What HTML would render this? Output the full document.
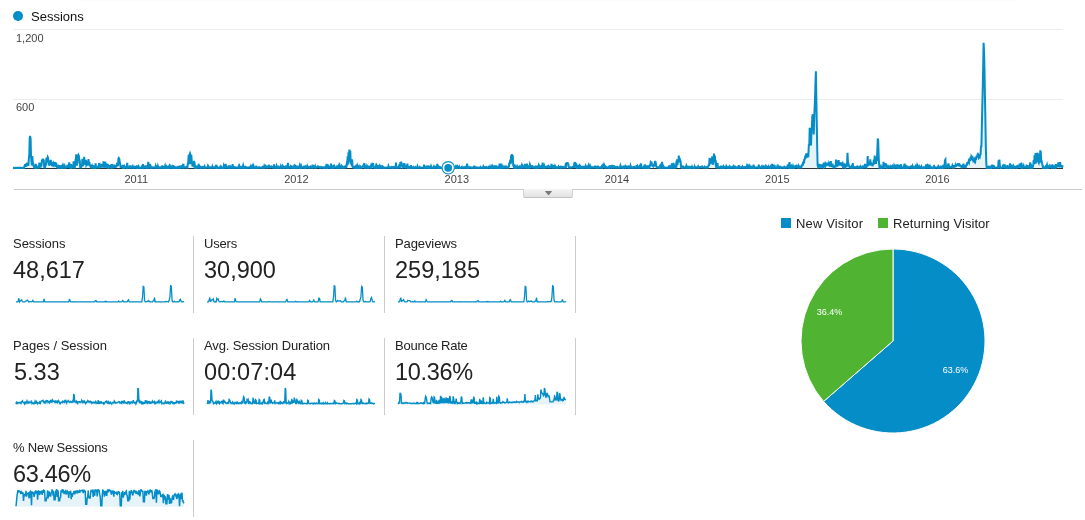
<!DOCTYPE html>
<html><head><meta charset="utf-8"><title>Audience Overview</title>
<style>
html,body{margin:0;padding:0;background:#fff;}
body{width:1085px;height:520px;position:relative;overflow:hidden;font-family:"Liberation Sans",sans-serif;color:#222;}
#chart{position:absolute;left:0;top:0;}
#chart text{font-family:"Liberation Sans",sans-serif;font-size:11px;fill:#444;}
#chart text.lg{font-size:13px;fill:#111;}
.tab{position:absolute;left:523px;top:189px;width:48px;height:8px;border:1px solid #d2d2d2;border-bottom-color:#c2c2c2;border-top:none;border-radius:0 0 2px 2px;background:linear-gradient(#f4f4f4,#e2e2e2);}
.m{position:absolute;width:180px;height:77px;border-right:1px solid #ccc;}
.ml{position:absolute;left:0;top:0px;font-size:13px;line-height:16px;color:#222;white-space:nowrap;}
.mv{position:absolute;left:0;top:19px;font-size:23.5px;line-height:30px;color:#222;white-space:nowrap;}
.sp{position:absolute;left:1px;top:49px;}
#pie{position:absolute;left:0;top:0;pointer-events:none;}
#pie text{font-family:"Liberation Sans",sans-serif;}
</style></head><body>
<svg id="chart" width="1085" height="200" viewBox="0 0 1085 200">
<defs><clipPath id="cp"><rect x="12" y="0" width="1052" height="169"/></clipPath></defs>
<rect x="76" y="0" width="943" height="1" fill="#fcfcfc"/>
<circle cx="18" cy="16" r="5" fill="#058dc7"/>
<text class="lg" x="31" y="21">Sessions</text>
<rect x="13" y="29" width="1050" height="1" fill="#ececec"/>
<rect x="13" y="99" width="1050" height="1" fill="#ececec"/>
<text x="16" y="42">1,200</text>
<text x="16" y="111">600</text>
<rect x="13" y="168" width="1050" height="1" fill="#333"/>
<path d="M13.0,168.0 L13.0,167.8 L13.4,167.9 L13.9,167.8 L14.3,167.9 L14.8,167.8 L15.2,167.9 L15.6,167.8 L16.1,167.9 L16.5,167.8 L17.0,167.9 L17.4,167.8 L17.8,167.9 L18.3,167.8 L18.7,167.9 L19.1,167.8 L19.6,167.9 L20.0,167.8 L20.5,167.9 L20.9,167.8 L21.3,167.9 L21.8,167.8 L22.2,167.9 L22.7,167.8 L23.1,167.9 L23.5,167.8 L24.0,167.9 L24.4,166.2 L24.9,165.1 L25.3,165.1 L25.7,166.7 L26.2,164.6 L26.6,164.9 L27.1,162.8 L27.5,165.8 L27.9,164.5 L28.4,165.8 L28.8,159.1 L29.3,155.0 L29.7,138.6 L30.1,136.0 L30.6,138.6 L31.0,155.3 L31.4,161.0 L31.9,165.5 L32.3,156.2 L32.8,162.7 L33.2,163.5 L33.6,165.9 L34.1,167.2 L34.5,166.8 L35.0,166.6 L35.4,167.4 L35.8,163.8 L36.3,167.3 L36.7,166.7 L37.2,167.8 L37.6,167.4 L38.0,166.9 L38.5,166.3 L38.9,166.9 L39.4,162.7 L39.8,165.1 L40.2,164.8 L40.7,167.5 L41.1,164.8 L41.5,164.9 L42.0,159.5 L42.4,162.1 L42.9,158.7 L43.3,161.9 L43.7,159.5 L44.2,167.0 L44.6,166.8 L45.1,167.3 L45.5,164.5 L45.9,164.6 L46.4,157.9 L46.8,162.3 L47.3,158.6 L47.7,157.0 L48.1,157.9 L48.6,163.8 L49.0,163.8 L49.5,165.7 L49.9,160.5 L50.3,164.1 L50.8,159.8 L51.2,164.8 L51.6,161.8 L52.1,166.1 L52.5,162.6 L53.0,164.4 L53.4,163.2 L53.8,164.3 L54.3,162.4 L54.7,164.0 L55.2,162.0 L55.6,166.0 L56.0,165.9 L56.5,165.0 L56.9,167.1 L57.4,167.4 L57.8,165.1 L58.2,167.4 L58.7,166.3 L59.1,167.0 L59.6,165.1 L60.0,166.9 L60.4,167.6 L60.9,167.5 L61.3,166.7 L61.8,167.8 L62.2,166.5 L62.6,167.2 L63.1,165.1 L63.5,166.0 L63.9,167.4 L64.4,167.6 L64.8,166.1 L65.3,167.7 L65.7,167.2 L66.1,167.3 L66.6,167.3 L67.0,166.8 L67.5,164.8 L67.9,167.8 L68.3,166.5 L68.8,166.8 L69.2,162.3 L69.7,166.3 L70.1,167.3 L70.5,166.5 L71.0,164.1 L71.4,167.7 L71.9,166.7 L72.3,167.0 L72.7,164.8 L73.2,167.7 L73.6,161.4 L74.0,166.7 L74.5,166.2 L74.9,167.0 L75.4,161.7 L75.8,162.5 L76.2,154.3 L76.7,165.4 L77.1,163.9 L77.6,162.6 L78.0,156.1 L78.4,155.0 L78.9,156.1 L79.3,159.7 L79.8,160.7 L80.2,167.3 L80.6,167.3 L81.1,167.5 L81.5,166.0 L82.0,165.6 L82.4,158.7 L82.8,166.4 L83.3,162.8 L83.7,163.7 L84.2,156.7 L84.6,164.7 L85.0,160.8 L85.5,164.9 L85.9,159.9 L86.3,164.8 L86.8,163.7 L87.2,165.6 L87.7,162.3 L88.1,165.5 L88.5,159.1 L89.0,164.9 L89.4,162.2 L89.9,166.5 L90.3,164.7 L90.7,166.7 L91.2,166.2 L91.6,167.0 L92.1,165.9 L92.5,167.4 L92.9,165.2 L93.4,167.6 L93.8,167.1 L94.3,167.4 L94.7,166.7 L95.1,167.6 L95.6,163.3 L96.0,166.5 L96.4,167.3 L96.9,167.4 L97.3,167.0 L97.8,167.3 L98.2,166.9 L98.6,167.2 L99.1,163.2 L99.5,167.4 L100.0,165.7 L100.4,167.1 L100.8,165.2 L101.3,167.7 L101.7,165.2 L102.2,165.6 L102.6,166.0 L103.0,167.5 L103.5,161.4 L103.9,166.9 L104.4,165.8 L104.8,167.7 L105.2,161.7 L105.7,165.5 L106.1,166.6 L106.5,167.1 L107.0,167.4 L107.4,164.6 L107.9,164.8 L108.3,167.1 L108.7,165.3 L109.2,167.6 L109.6,167.0 L110.1,166.0 L110.5,166.2 L110.9,167.7 L111.4,164.1 L111.8,167.4 L112.3,166.7 L112.7,167.1 L113.1,165.9 L113.6,166.7 L114.0,166.1 L114.5,167.6 L114.9,165.4 L115.3,167.7 L115.8,165.1 L116.2,167.3 L116.7,164.9 L117.1,165.6 L117.5,165.2 L118.0,165.2 L118.4,158.8 L118.8,158.0 L119.3,158.8 L119.7,161.5 L120.2,164.2 L120.6,167.1 L121.0,167.1 L121.5,167.0 L121.9,166.6 L122.4,167.5 L122.8,164.8 L123.2,167.8 L123.7,166.6 L124.1,166.0 L124.6,167.6 L125.0,167.1 L125.4,166.7 L125.9,166.7 L126.3,166.6 L126.8,167.6 L127.2,162.9 L127.6,167.8 L128.1,167.6 L128.5,167.2 L128.9,167.2 L129.4,167.6 L129.8,165.5 L130.3,167.7 L130.7,165.4 L131.1,167.4 L131.6,167.3 L132.0,167.8 L132.5,167.4 L132.9,166.3 L133.3,167.2 L133.8,167.8 L134.2,167.4 L134.7,166.9 L135.1,167.5 L135.5,167.3 L136.0,167.6 L136.4,166.6 L136.9,167.0 L137.3,167.9 L137.7,165.4 L138.2,167.7 L138.6,166.6 L139.1,167.6 L139.5,167.7 L139.9,167.8 L140.4,167.6 L140.8,167.8 L141.2,167.7 L141.7,167.9 L142.1,165.3 L142.6,167.9 L143.0,164.2 L143.4,167.8 L143.9,167.6 L144.3,167.4 L144.8,165.6 L145.2,167.7 L145.6,167.8 L146.1,165.4 L146.5,167.7 L147.0,167.7 L147.4,167.2 L147.8,167.1 L148.3,161.8 L148.7,167.6 L149.2,167.4 L149.6,167.3 L150.0,163.8 L150.5,167.2 L150.9,166.8 L151.3,167.9 L151.8,167.5 L152.2,167.7 L152.7,167.3 L153.1,167.3 L153.5,167.6 L154.0,167.5 L154.4,167.4 L154.9,167.4 L155.3,167.6 L155.7,166.0 L156.2,167.7 L156.6,167.8 L157.1,165.8 L157.5,167.8 L157.9,166.1 L158.4,167.7 L158.8,167.7 L159.3,167.4 L159.7,167.7 L160.1,167.3 L160.6,167.8 L161.0,167.5 L161.4,167.6 L161.9,167.8 L162.3,165.5 L162.8,167.7 L163.2,167.0 L163.6,167.4 L164.1,167.7 L164.5,167.3 L165.0,165.9 L165.4,167.8 L165.8,167.2 L166.3,167.8 L166.7,166.7 L167.2,167.9 L167.6,167.2 L168.0,167.4 L168.5,166.8 L168.9,167.9 L169.4,166.4 L169.8,167.8 L170.2,166.5 L170.7,167.7 L171.1,167.6 L171.6,167.4 L172.0,166.5 L172.4,167.5 L172.9,165.1 L173.3,167.8 L173.7,167.5 L174.2,167.8 L174.6,167.1 L175.1,167.7 L175.5,167.4 L175.9,167.7 L176.4,167.5 L176.8,167.9 L177.3,167.2 L177.7,167.8 L178.1,167.3 L178.6,166.9 L179.0,167.6 L179.5,167.5 L179.9,166.9 L180.3,167.8 L180.8,167.2 L181.2,166.6 L181.7,167.4 L182.1,167.4 L182.5,166.2 L183.0,167.7 L183.4,163.9 L183.8,167.5 L184.3,167.2 L184.7,167.4 L185.2,167.3 L185.6,167.4 L186.0,167.5 L186.5,166.9 L186.9,167.1 L187.4,167.6 L187.8,163.6 L188.2,162.2 L188.7,154.7 L189.1,164.3 L189.6,154.7 L190.0,153.5 L190.4,154.7 L190.9,164.3 L191.3,154.7 L191.8,161.7 L192.2,163.1 L192.6,166.7 L193.1,162.4 L193.5,164.4 L194.0,160.8 L194.4,165.4 L194.8,164.7 L195.3,167.8 L195.7,167.2 L196.1,167.6 L196.6,166.9 L197.0,167.8 L197.5,166.9 L197.9,166.9 L198.3,165.7 L198.8,166.8 L199.2,165.7 L199.7,166.7 L200.1,167.7 L200.5,167.0 L201.0,167.5 L201.4,167.8 L201.9,167.3 L202.3,166.8 L202.7,167.0 L203.2,167.7 L203.6,167.4 L204.1,167.1 L204.5,166.4 L204.9,167.8 L205.4,167.5 L205.8,167.7 L206.2,167.6 L206.7,167.6 L207.1,167.6 L207.6,167.6 L208.0,165.7 L208.4,166.3 L208.9,167.7 L209.3,167.8 L209.8,167.4 L210.2,167.6 L210.6,167.4 L211.1,167.8 L211.5,167.5 L212.0,167.8 L212.4,166.4 L212.8,167.5 L213.3,167.4 L213.7,167.5 L214.2,167.3 L214.6,167.7 L215.0,167.5 L215.5,167.7 L215.9,164.9 L216.3,167.4 L216.8,166.6 L217.2,167.9 L217.7,167.3 L218.1,167.8 L218.5,167.7 L219.0,167.8 L219.4,167.8 L219.9,167.8 L220.3,166.8 L220.7,167.6 L221.2,167.0 L221.6,167.9 L222.1,167.7 L222.5,167.9 L222.9,167.7 L223.4,167.9 L223.8,165.8 L224.3,167.3 L224.7,167.7 L225.1,167.8 L225.6,163.8 L226.0,167.7 L226.5,167.5 L226.9,167.0 L227.3,167.6 L227.8,167.7 L228.2,167.0 L228.6,167.7 L229.1,166.8 L229.5,167.9 L230.0,167.2 L230.4,166.7 L230.8,167.7 L231.3,167.7 L231.7,167.2 L232.2,167.8 L232.6,164.0 L233.0,167.7 L233.5,167.4 L233.9,167.3 L234.4,167.8 L234.8,167.3 L235.2,167.7 L235.7,167.8 L236.1,167.4 L236.6,167.7 L237.0,167.8 L237.4,167.8 L237.9,167.5 L238.3,167.0 L238.7,166.2 L239.2,167.7 L239.6,166.1 L240.1,167.3 L240.5,167.5 L240.9,167.9 L241.4,167.2 L241.8,167.8 L242.3,167.8 L242.7,166.7 L243.1,165.4 L243.6,167.7 L244.0,167.1 L244.5,167.6 L244.9,166.0 L245.3,167.7 L245.8,167.2 L246.2,167.8 L246.7,167.6 L247.1,167.7 L247.5,167.6 L248.0,167.9 L248.4,167.4 L248.9,167.4 L249.3,167.5 L249.7,167.2 L250.2,166.8 L250.6,167.5 L251.0,166.0 L251.5,167.0 L251.9,167.6 L252.4,167.0 L252.8,165.9 L253.2,167.9 L253.7,166.5 L254.1,167.9 L254.6,167.6 L255.0,167.8 L255.4,167.5 L255.9,167.7 L256.3,165.7 L256.8,167.7 L257.2,167.6 L257.6,167.8 L258.1,167.7 L258.5,167.9 L259.0,167.2 L259.4,167.6 L259.8,167.5 L260.3,167.7 L260.7,167.6 L261.1,167.4 L261.6,167.3 L262.0,167.8 L262.5,167.1 L262.9,167.8 L263.3,167.4 L263.8,167.8 L264.2,166.3 L264.7,167.7 L265.1,164.7 L265.5,167.6 L266.0,167.5 L266.4,166.3 L266.9,166.4 L267.3,166.9 L267.7,167.6 L268.2,167.2 L268.6,165.7 L269.1,165.6 L269.5,167.1 L269.9,167.4 L270.4,167.4 L270.8,166.9 L271.2,166.5 L271.7,167.0 L272.1,167.1 L272.6,167.5 L273.0,167.5 L273.4,167.7 L273.9,164.5 L274.3,166.4 L274.8,167.5 L275.2,167.8 L275.6,167.6 L276.1,167.6 L276.5,166.0 L277.0,167.7 L277.4,167.0 L277.8,167.5 L278.3,165.7 L278.7,167.8 L279.2,167.7 L279.6,167.5 L280.0,167.2 L280.5,167.7 L280.9,166.1 L281.4,167.3 L281.8,167.6 L282.2,167.5 L282.7,166.0 L283.1,166.7 L283.5,167.7 L284.0,167.1 L284.4,167.6 L284.9,167.3 L285.3,166.7 L285.7,166.4 L286.2,166.6 L286.6,167.8 L287.1,166.5 L287.5,167.7 L287.9,162.9 L288.4,167.8 L288.8,167.3 L289.3,167.3 L289.7,167.5 L290.1,167.4 L290.6,166.4 L291.0,167.2 L291.5,165.5 L291.9,167.6 L292.3,167.5 L292.8,167.7 L293.2,167.2 L293.6,167.8 L294.1,166.4 L294.5,167.8 L295.0,167.6 L295.4,165.7 L295.8,166.0 L296.3,167.7 L296.7,167.3 L297.2,167.1 L297.6,166.7 L298.0,167.7 L298.5,167.1 L298.9,167.0 L299.4,167.7 L299.8,165.7 L300.2,166.9 L300.7,167.8 L301.1,166.1 L301.6,167.8 L302.0,167.2 L302.4,167.5 L302.9,167.4 L303.3,166.9 L303.8,166.6 L304.2,167.8 L304.6,167.6 L305.1,167.8 L305.5,166.9 L305.9,167.8 L306.4,167.0 L306.8,167.2 L307.3,165.8 L307.7,166.6 L308.1,167.3 L308.6,167.7 L309.0,167.3 L309.5,167.7 L309.9,167.2 L310.3,166.7 L310.8,167.4 L311.2,167.7 L311.7,167.3 L312.1,167.8 L312.5,164.6 L313.0,167.7 L313.4,165.5 L313.9,167.2 L314.3,167.5 L314.7,167.8 L315.2,166.4 L315.6,167.6 L316.0,167.7 L316.5,167.5 L316.9,167.3 L317.4,167.3 L317.8,166.5 L318.2,166.9 L318.7,166.7 L319.1,166.9 L319.6,167.4 L320.0,167.7 L320.4,167.7 L320.9,167.1 L321.3,167.6 L321.8,167.6 L322.2,167.1 L322.6,167.2 L323.1,167.3 L323.5,167.8 L324.0,167.3 L324.4,167.9 L324.8,167.4 L325.3,167.5 L325.7,167.7 L326.1,166.1 L326.6,167.1 L327.0,167.7 L327.5,164.0 L327.9,167.8 L328.3,167.4 L328.8,166.8 L329.2,167.5 L329.7,167.4 L330.1,167.7 L330.5,167.6 L331.0,163.6 L331.4,167.8 L331.9,167.4 L332.3,167.6 L332.7,166.9 L333.2,167.8 L333.6,167.3 L334.1,164.6 L334.5,167.4 L334.9,167.3 L335.4,167.5 L335.8,167.6 L336.3,167.1 L336.7,167.5 L337.1,166.6 L337.6,167.2 L338.0,166.6 L338.4,167.2 L338.9,165.7 L339.3,167.7 L339.8,166.1 L340.2,167.6 L340.6,167.4 L341.1,167.8 L341.5,166.4 L342.0,167.5 L342.4,167.6 L342.8,166.9 L343.3,167.7 L343.7,167.7 L344.2,166.9 L344.6,167.4 L345.0,167.6 L345.5,166.5 L345.9,166.9 L346.4,167.0 L346.8,163.2 L347.2,163.5 L347.7,156.4 L348.1,164.5 L348.5,152.2 L349.0,156.4 L349.4,149.5 L349.9,162.0 L350.3,150.9 L350.7,163.1 L351.2,163.5 L351.6,164.4 L352.1,159.2 L352.5,165.5 L352.9,166.8 L353.4,167.5 L353.8,167.2 L354.3,167.6 L354.7,165.9 L355.1,167.5 L355.6,166.6 L356.0,167.4 L356.5,166.4 L356.9,167.6 L357.3,165.9 L357.8,167.5 L358.2,165.7 L358.7,167.6 L359.1,166.6 L359.5,167.8 L360.0,167.6 L360.4,166.7 L360.8,167.3 L361.3,167.9 L361.7,166.8 L362.2,166.7 L362.6,166.4 L363.0,166.1 L363.5,165.2 L363.9,167.6 L364.4,163.1 L364.8,167.8 L365.2,167.4 L365.7,167.5 L366.1,165.5 L366.6,167.9 L367.0,166.2 L367.4,167.3 L367.9,166.7 L368.3,167.8 L368.8,167.7 L369.2,167.4 L369.6,166.8 L370.1,166.5 L370.5,167.4 L370.9,167.9 L371.4,163.5 L371.8,167.2 L372.3,164.7 L372.7,165.5 L373.1,163.0 L373.6,167.2 L374.0,167.6 L374.5,167.5 L374.9,167.5 L375.3,167.7 L375.8,166.1 L376.2,167.7 L376.7,166.0 L377.1,167.6 L377.5,165.1 L378.0,167.8 L378.4,167.8 L378.9,167.6 L379.3,166.4 L379.7,167.8 L380.2,167.3 L380.6,166.5 L381.0,167.4 L381.5,167.0 L381.9,166.5 L382.4,167.7 L382.8,167.1 L383.2,167.9 L383.7,167.3 L384.1,167.5 L384.6,167.6 L385.0,167.9 L385.4,167.8 L385.9,167.9 L386.3,167.6 L386.8,167.4 L387.2,167.4 L387.6,167.7 L388.1,167.6 L388.5,166.0 L389.0,167.3 L389.4,167.5 L389.8,167.7 L390.3,167.8 L390.7,167.2 L391.2,167.0 L391.6,167.6 L392.0,167.8 L392.5,167.3 L392.9,167.9 L393.3,167.3 L393.8,167.0 L394.2,167.6 L394.7,167.8 L395.1,167.8 L395.5,167.7 L396.0,162.7 L396.4,167.7 L396.9,167.7 L397.3,167.8 L397.7,167.3 L398.2,167.5 L398.6,167.5 L399.1,165.9 L399.5,166.5 L399.9,167.1 L400.4,162.2 L400.8,165.0 L401.3,161.7 L401.7,165.9 L402.1,166.2 L402.6,167.5 L403.0,166.1 L403.4,166.2 L403.9,163.1 L404.3,165.9 L404.8,165.3 L405.2,167.4 L405.6,167.6 L406.1,167.6 L406.5,166.6 L407.0,167.9 L407.4,163.6 L407.8,167.7 L408.3,167.2 L408.7,167.9 L409.2,167.3 L409.6,167.6 L410.0,167.1 L410.5,167.8 L410.9,165.2 L411.4,167.8 L411.8,167.8 L412.2,167.9 L412.7,167.5 L413.1,167.8 L413.6,167.1 L414.0,167.7 L414.4,167.8 L414.9,167.8 L415.3,167.2 L415.7,167.8 L416.2,167.7 L416.6,167.4 L417.1,167.6 L417.5,166.3 L417.9,167.5 L418.4,167.9 L418.8,167.7 L419.3,167.7 L419.7,167.1 L420.1,167.8 L420.6,167.8 L421.0,167.8 L421.5,167.6 L421.9,167.8 L422.3,167.7 L422.8,167.6 L423.2,167.8 L423.7,167.9 L424.1,164.6 L424.5,167.0 L425.0,167.7 L425.4,167.9 L425.8,167.4 L426.3,167.4 L426.7,165.6 L427.2,167.8 L427.6,167.7 L428.0,167.6 L428.5,165.5 L428.9,167.8 L429.4,167.3 L429.8,167.8 L430.2,167.7 L430.7,167.8 L431.1,166.3 L431.6,167.6 L432.0,167.5 L432.4,167.7 L432.9,167.8 L433.3,167.8 L433.8,166.7 L434.2,167.9 L434.6,165.8 L435.1,167.5 L435.5,167.3 L435.9,167.8 L436.4,167.8 L436.8,167.8 L437.3,163.9 L437.7,167.8 L438.1,167.0 L438.6,167.9 L439.0,166.9 L439.5,167.5 L439.9,167.2 L440.3,167.9 L440.8,167.7 L441.2,167.9 L441.7,167.8 L442.1,167.6 L442.5,167.5 L443.0,167.6 L443.4,167.7 L443.9,167.8 L444.3,166.7 L444.7,166.5 L445.2,167.8 L445.6,167.6 L446.1,167.4 L446.5,167.9 L446.9,167.3 L447.4,167.8 L447.8,167.6 L448.2,167.1 L448.7,167.1 L449.1,167.9 L449.6,167.2 L450.0,167.9 L450.4,166.7 L450.9,167.7 L451.3,167.3 L451.8,167.9 L452.2,165.3 L452.6,167.8 L453.1,167.6 L453.5,167.5 L454.0,167.7 L454.4,167.8 L454.8,167.8 L455.3,166.9 L455.7,166.3 L456.2,167.9 L456.6,167.1 L457.0,167.9 L457.5,166.7 L457.9,167.8 L458.3,167.8 L458.8,167.6 L459.2,166.7 L459.7,167.9 L460.1,167.8 L460.5,167.9 L461.0,167.5 L461.4,167.2 L461.9,166.8 L462.3,167.8 L462.7,167.8 L463.2,167.7 L463.6,167.4 L464.1,167.9 L464.5,167.4 L464.9,167.0 L465.4,167.8 L465.8,167.8 L466.3,166.9 L466.7,167.9 L467.1,163.7 L467.6,167.9 L468.0,167.1 L468.5,167.9 L468.9,167.8 L469.3,167.7 L469.8,167.1 L470.2,167.6 L470.6,167.5 L471.1,167.4 L471.5,167.8 L472.0,167.8 L472.4,167.6 L472.8,167.7 L473.3,167.7 L473.7,167.9 L474.2,165.7 L474.6,167.8 L475.0,167.5 L475.5,167.4 L475.9,167.7 L476.4,167.8 L476.8,167.4 L477.2,167.9 L477.7,167.8 L478.1,167.7 L478.6,167.6 L479.0,167.9 L479.4,167.7 L479.9,167.7 L480.3,167.1 L480.7,167.8 L481.2,167.7 L481.6,167.5 L482.1,167.7 L482.5,167.6 L482.9,167.8 L483.4,166.4 L483.8,167.1 L484.3,167.8 L484.7,167.5 L485.1,167.7 L485.6,167.3 L486.0,167.7 L486.5,167.2 L486.9,167.9 L487.3,167.5 L487.8,167.6 L488.2,167.5 L488.7,167.0 L489.1,167.4 L489.5,167.8 L490.0,166.6 L490.4,167.8 L490.8,167.4 L491.3,167.7 L491.7,166.7 L492.2,167.9 L492.6,166.6 L493.0,167.7 L493.5,167.5 L493.9,167.8 L494.4,165.4 L494.8,167.1 L495.2,167.3 L495.7,167.8 L496.1,165.5 L496.6,167.9 L497.0,167.8 L497.4,167.7 L497.9,167.2 L498.3,167.9 L498.8,167.7 L499.2,167.9 L499.6,163.7 L500.1,167.8 L500.5,167.7 L501.0,167.9 L501.4,163.7 L501.8,167.9 L502.3,166.7 L502.7,167.7 L503.1,167.7 L503.6,167.6 L504.0,166.7 L504.5,167.8 L504.9,167.8 L505.3,167.5 L505.8,166.7 L506.2,167.2 L506.7,166.8 L507.1,167.6 L507.5,167.4 L508.0,167.8 L508.4,167.3 L508.9,166.5 L509.3,162.6 L509.7,164.5 L510.2,159.9 L510.6,163.9 L511.1,155.2 L511.5,159.2 L511.9,154.1 L512.4,162.9 L512.8,155.2 L513.2,165.2 L513.7,166.5 L514.1,167.6 L514.6,164.5 L515.0,167.2 L515.4,167.6 L515.9,167.8 L516.3,167.2 L516.8,167.8 L517.2,166.5 L517.6,167.3 L518.1,167.4 L518.5,166.9 L519.0,167.0 L519.4,167.8 L519.8,166.8 L520.3,167.4 L520.7,166.5 L521.2,166.4 L521.6,165.4 L522.0,167.6 L522.5,167.2 L522.9,166.2 L523.4,167.2 L523.8,167.8 L524.2,167.6 L524.7,167.1 L525.1,164.0 L525.5,167.8 L526.0,166.6 L526.4,167.5 L526.9,163.5 L527.3,167.1 L527.7,167.4 L528.2,167.8 L528.6,167.0 L529.1,167.8 L529.5,166.5 L529.9,164.5 L530.4,166.0 L530.8,166.9 L531.3,167.6 L531.7,167.6 L532.1,165.3 L532.6,167.0 L533.0,166.8 L533.5,167.4 L533.9,167.4 L534.3,167.7 L534.8,167.6 L535.2,166.8 L535.6,167.3 L536.1,165.6 L536.5,167.7 L537.0,167.1 L537.4,166.9 L537.8,167.8 L538.3,166.5 L538.7,165.2 L539.2,166.4 L539.6,167.3 L540.0,166.5 L540.5,167.2 L540.9,167.2 L541.4,166.4 L541.8,167.0 L542.2,167.7 L542.7,162.6 L543.1,167.7 L543.6,167.1 L544.0,167.3 L544.4,166.0 L544.9,167.7 L545.3,167.6 L545.7,167.5 L546.2,166.8 L546.6,167.3 L547.1,167.4 L547.5,167.1 L547.9,166.2 L548.4,165.7 L548.8,166.3 L549.3,167.4 L549.7,166.9 L550.1,167.0 L550.6,167.4 L551.0,167.4 L551.5,163.8 L551.9,167.2 L552.3,167.6 L552.8,167.7 L553.2,165.1 L553.7,167.2 L554.1,167.5 L554.5,167.6 L555.0,166.1 L555.4,167.0 L555.9,167.0 L556.3,167.8 L556.7,167.5 L557.2,167.9 L557.6,167.5 L558.0,167.8 L558.5,166.6 L558.9,167.4 L559.4,167.2 L559.8,167.0 L560.2,167.6 L560.7,167.8 L561.1,166.9 L561.6,167.6 L562.0,167.6 L562.4,166.9 L562.9,166.8 L563.3,167.5 L563.8,167.3 L564.2,167.5 L564.6,167.5 L565.1,167.5 L565.5,165.5 L566.0,166.3 L566.4,162.7 L566.8,164.6 L567.3,162.1 L567.7,164.4 L568.1,162.9 L568.6,166.7 L569.0,167.3 L569.5,167.8 L569.9,167.5 L570.3,167.2 L570.8,167.5 L571.2,167.8 L571.7,167.5 L572.1,167.4 L572.5,167.0 L573.0,167.0 L573.4,166.7 L573.9,166.9 L574.3,162.7 L574.7,165.8 L575.2,162.0 L575.6,165.8 L576.1,165.2 L576.5,167.3 L576.9,166.2 L577.4,167.8 L577.8,165.1 L578.3,167.9 L578.7,167.6 L579.1,167.5 L579.6,165.2 L580.0,165.6 L580.4,167.3 L580.9,167.9 L581.3,167.6 L581.8,167.6 L582.2,166.0 L582.6,167.8 L583.1,167.3 L583.5,167.6 L584.0,166.9 L584.4,167.4 L584.8,167.4 L585.3,167.7 L585.7,166.0 L586.2,167.0 L586.6,167.3 L587.0,165.7 L587.5,167.6 L587.9,167.2 L588.4,165.7 L588.8,167.6 L589.2,166.7 L589.7,167.9 L590.1,166.2 L590.5,167.4 L591.0,167.0 L591.4,167.5 L591.9,167.6 L592.3,167.2 L592.7,167.1 L593.2,167.5 L593.6,167.6 L594.1,167.5 L594.5,167.5 L594.9,165.7 L595.4,167.7 L595.8,167.8 L596.3,167.5 L596.7,167.7 L597.1,165.9 L597.6,167.9 L598.0,167.0 L598.5,167.9 L598.9,167.3 L599.3,167.7 L599.8,167.6 L600.2,167.6 L600.6,167.3 L601.1,167.8 L601.5,166.9 L602.0,167.8 L602.4,164.5 L602.8,167.8 L603.3,163.7 L603.7,167.8 L604.2,165.0 L604.6,166.0 L605.0,167.7 L605.5,167.8 L605.9,166.6 L606.4,167.0 L606.8,167.4 L607.2,167.4 L607.7,167.7 L608.1,167.6 L608.6,167.2 L609.0,167.8 L609.4,165.5 L609.9,167.7 L610.3,167.4 L610.8,166.0 L611.2,165.9 L611.6,167.8 L612.1,167.6 L612.5,166.5 L612.9,167.2 L613.4,167.6 L613.8,165.3 L614.3,167.1 L614.7,167.2 L615.1,167.3 L615.6,167.0 L616.0,167.8 L616.5,167.1 L616.9,167.1 L617.3,167.0 L617.8,167.7 L618.2,167.7 L618.7,167.4 L619.1,167.3 L619.5,167.7 L620.0,167.3 L620.4,165.7 L620.9,167.4 L621.3,167.7 L621.7,167.2 L622.2,167.9 L622.6,167.5 L623.0,167.6 L623.5,165.8 L623.9,167.7 L624.4,167.0 L624.8,167.0 L625.2,166.3 L625.7,167.4 L626.1,166.9 L626.6,167.5 L627.0,167.5 L627.4,165.8 L627.9,167.7 L628.3,167.8 L628.8,166.9 L629.2,167.5 L629.6,167.7 L630.1,167.2 L630.5,165.7 L631.0,167.6 L631.4,167.7 L631.8,167.2 L632.3,167.7 L632.7,167.8 L633.2,167.2 L633.6,167.6 L634.0,167.1 L634.5,166.9 L634.9,167.7 L635.3,167.5 L635.8,167.3 L636.2,167.3 L636.7,165.3 L637.1,167.3 L637.5,166.2 L638.0,167.4 L638.4,167.7 L638.9,167.6 L639.3,166.7 L639.7,167.4 L640.2,165.9 L640.6,167.7 L641.1,163.6 L641.5,167.5 L641.9,167.5 L642.4,167.6 L642.8,167.7 L643.3,167.8 L643.7,167.1 L644.1,167.9 L644.6,164.7 L645.0,167.9 L645.4,166.3 L645.9,167.5 L646.3,167.1 L646.8,167.7 L647.2,165.3 L647.6,167.8 L648.1,167.0 L648.5,167.8 L649.0,166.8 L649.4,167.4 L649.8,165.5 L650.3,165.5 L650.7,162.3 L651.2,163.0 L651.6,162.7 L652.0,164.2 L652.5,165.7 L652.9,166.2 L653.4,166.5 L653.8,165.8 L654.2,163.8 L654.7,165.6 L655.1,160.8 L655.5,165.8 L656.0,164.5 L656.4,166.8 L656.9,167.1 L657.3,167.5 L657.7,167.2 L658.2,167.6 L658.6,167.7 L659.1,167.6 L659.5,166.8 L659.9,167.9 L660.4,166.1 L660.8,167.2 L661.3,167.6 L661.7,167.2 L662.1,161.9 L662.6,167.9 L663.0,167.1 L663.5,166.2 L663.9,166.9 L664.3,167.9 L664.8,167.6 L665.2,167.7 L665.7,167.6 L666.1,167.8 L666.5,167.8 L667.0,167.9 L667.4,167.6 L667.8,167.8 L668.3,167.4 L668.7,167.2 L669.2,165.6 L669.6,167.8 L670.0,166.7 L670.5,167.5 L670.9,167.8 L671.4,167.7 L671.8,163.3 L672.2,167.2 L672.7,167.7 L673.1,167.7 L673.6,162.9 L674.0,167.7 L674.4,164.9 L674.9,167.8 L675.3,167.3 L675.8,167.1 L676.2,163.8 L676.6,164.6 L677.1,159.4 L677.5,165.0 L677.9,159.2 L678.4,162.8 L678.8,155.5 L679.3,161.4 L679.7,157.8 L680.1,161.8 L680.6,160.6 L681.0,167.1 L681.5,167.6 L681.9,166.6 L682.3,166.5 L682.8,167.5 L683.2,166.9 L683.7,167.8 L684.1,167.8 L684.5,167.8 L685.0,167.3 L685.4,167.9 L685.9,167.7 L686.3,166.1 L686.7,167.5 L687.2,167.9 L687.6,165.8 L688.1,167.6 L688.5,167.4 L688.9,167.9 L689.4,167.3 L689.8,167.9 L690.2,166.9 L690.7,167.1 L691.1,167.8 L691.6,167.6 L692.0,166.6 L692.4,167.6 L692.9,167.7 L693.3,167.9 L693.8,167.4 L694.2,167.9 L694.6,166.5 L695.1,167.7 L695.5,167.5 L696.0,167.4 L696.4,167.6 L696.8,167.7 L697.3,167.3 L697.7,167.9 L698.2,166.6 L698.6,167.5 L699.0,167.6 L699.5,167.7 L699.9,167.5 L700.3,167.0 L700.8,167.0 L701.2,166.9 L701.7,166.7 L702.1,166.5 L702.5,167.5 L703.0,167.3 L703.4,167.5 L703.9,167.3 L704.3,166.8 L704.7,167.7 L705.2,167.6 L705.6,167.6 L706.1,167.0 L706.5,167.5 L706.9,167.7 L707.4,167.8 L707.8,166.8 L708.3,166.7 L708.7,164.9 L709.1,164.9 L709.6,157.9 L710.0,164.2 L710.4,159.1 L710.9,163.6 L711.3,158.5 L711.8,162.6 L712.2,156.4 L712.6,164.7 L713.1,161.7 L713.5,162.4 L714.0,153.5 L714.4,159.8 L714.8,155.5 L715.3,161.8 L715.7,160.2 L716.2,167.1 L716.6,167.3 L717.0,165.4 L717.5,163.0 L717.9,167.9 L718.4,167.8 L718.8,167.8 L719.2,167.7 L719.7,167.1 L720.1,167.0 L720.6,167.6 L721.0,165.7 L721.4,167.6 L721.9,166.9 L722.3,167.8 L722.7,167.5 L723.2,167.6 L723.6,166.5 L724.1,167.8 L724.5,167.4 L724.9,167.8 L725.4,167.6 L725.8,167.6 L726.3,166.1 L726.7,166.8 L727.1,167.2 L727.6,167.9 L728.0,167.6 L728.5,167.6 L728.9,166.1 L729.3,167.9 L729.8,166.6 L730.2,167.3 L730.7,167.7 L731.1,167.2 L731.5,167.2 L732.0,167.4 L732.4,167.1 L732.8,167.6 L733.3,166.4 L733.7,167.5 L734.2,167.5 L734.6,167.8 L735.0,165.6 L735.5,167.8 L735.9,167.5 L736.4,167.9 L736.8,167.5 L737.2,167.7 L737.7,167.7 L738.1,167.8 L738.6,165.2 L739.0,167.8 L739.4,166.9 L739.9,167.7 L740.3,167.6 L740.8,167.5 L741.2,167.3 L741.6,167.7 L742.1,167.7 L742.5,166.7 L743.0,167.7 L743.4,167.8 L743.8,167.2 L744.3,167.1 L744.7,167.6 L745.1,167.9 L745.6,167.0 L746.0,167.0 L746.5,167.4 L746.9,166.1 L747.3,167.5 L747.8,166.4 L748.2,167.8 L748.7,167.6 L749.1,166.4 L749.5,167.8 L750.0,166.5 L750.4,167.6 L750.9,167.5 L751.3,167.9 L751.7,167.1 L752.2,167.8 L752.6,167.3 L753.1,167.8 L753.5,164.6 L753.9,167.9 L754.4,167.1 L754.8,167.9 L755.2,167.5 L755.7,167.6 L756.1,167.5 L756.6,167.7 L757.0,167.4 L757.4,167.4 L757.9,167.4 L758.3,167.8 L758.8,164.6 L759.2,167.8 L759.6,167.0 L760.1,167.6 L760.5,167.4 L761.0,167.4 L761.4,166.7 L761.8,167.7 L762.3,167.4 L762.7,167.8 L763.2,166.1 L763.6,166.4 L764.0,167.5 L764.5,167.7 L764.9,166.9 L765.3,167.3 L765.8,166.2 L766.2,167.3 L766.7,166.8 L767.1,167.5 L767.5,167.7 L768.0,167.6 L768.4,166.6 L768.9,167.7 L769.3,167.5 L769.7,167.7 L770.2,167.0 L770.6,167.9 L771.1,166.4 L771.5,167.4 L771.9,163.8 L772.4,167.8 L772.8,167.5 L773.3,167.6 L773.7,164.7 L774.1,167.7 L774.6,165.2 L775.0,167.8 L775.5,167.4 L775.9,167.6 L776.3,167.5 L776.8,167.8 L777.2,166.6 L777.6,167.7 L778.1,166.5 L778.5,167.7 L779.0,167.3 L779.4,166.8 L779.8,166.8 L780.3,167.8 L780.7,167.1 L781.2,167.8 L781.6,167.6 L782.0,167.4 L782.5,167.5 L782.9,167.7 L783.4,167.6 L783.8,167.8 L784.2,167.0 L784.7,167.7 L785.1,167.2 L785.6,167.5 L786.0,167.4 L786.4,167.8 L786.9,167.4 L787.3,166.3 L787.7,167.1 L788.2,167.5 L788.6,165.9 L789.1,167.0 L789.5,162.2 L789.9,166.6 L790.4,166.7 L790.8,167.7 L791.3,166.4 L791.7,167.5 L792.1,165.4 L792.6,167.7 L793.0,166.2 L793.5,167.8 L793.9,167.0 L794.3,167.6 L794.8,167.5 L795.2,166.8 L795.7,165.3 L796.1,167.7 L796.5,166.0 L797.0,166.5 L797.4,166.5 L797.9,167.5 L798.3,166.1 L798.7,167.5 L799.2,166.5 L799.6,167.2 L800.0,167.1 L800.5,167.2 L800.9,166.6 L801.4,167.3 L801.8,165.4 L802.2,165.2 L802.7,163.6 L803.1,164.0 L803.6,162.1 L804.0,163.3 L804.4,159.8 L804.9,159.0 L805.3,155.5 L805.8,158.3 L806.2,153.4 L806.6,156.5 L807.1,154.3 L807.5,157.7 L808.0,154.6 L808.4,155.0 L808.8,145.2 L809.3,145.1 L809.7,127.7 L810.1,143.0 L810.6,137.7 L811.0,145.5 L811.5,130.3 L811.9,125.8 L812.3,116.6 L812.8,114.1 L813.2,120.9 L813.7,134.5 L814.1,121.9 L814.5,110.5 L815.0,99.0 L815.4,84.3 L815.9,71.3 L816.3,96.8 L816.7,120.3 L817.2,148.0 L817.6,165.0 L818.1,167.1 L818.5,166.6 L818.9,167.7 L819.4,164.0 L819.8,166.6 L820.2,166.5 L820.7,166.9 L821.1,164.4 L821.6,167.5 L822.0,166.2 L822.4,165.7 L822.9,166.7 L823.3,167.4 L823.8,162.6 L824.2,166.0 L824.6,165.8 L825.1,166.4 L825.5,163.7 L826.0,164.5 L826.4,163.1 L826.8,165.7 L827.3,162.6 L827.7,165.5 L828.2,163.5 L828.6,166.0 L829.0,163.5 L829.5,164.8 L829.9,163.8 L830.4,166.1 L830.8,161.1 L831.2,166.9 L831.7,164.1 L832.1,167.1 L832.5,163.6 L833.0,166.8 L833.4,166.9 L833.9,167.6 L834.3,167.0 L834.7,166.3 L835.2,166.4 L835.6,166.4 L836.1,159.6 L836.5,165.4 L836.9,164.8 L837.4,166.6 L837.8,163.8 L838.3,165.0 L838.7,160.0 L839.1,165.6 L839.6,162.1 L840.0,164.8 L840.5,162.3 L840.9,165.7 L841.3,163.2 L841.8,165.9 L842.2,164.4 L842.6,166.0 L843.1,164.5 L843.5,165.7 L844.0,165.0 L844.4,167.2 L844.8,167.0 L845.3,167.6 L845.7,164.8 L846.2,165.1 L846.6,167.1 L847.0,165.0 L847.5,152.9 L847.9,161.2 L848.4,163.5 L848.8,164.9 L849.2,166.8 L849.7,167.2 L850.1,167.5 L850.6,167.2 L851.0,166.7 L851.4,167.7 L851.9,167.2 L852.3,167.1 L852.8,163.2 L853.2,167.6 L853.6,167.0 L854.1,167.0 L854.5,167.3 L854.9,167.8 L855.4,167.3 L855.8,167.1 L856.3,167.5 L856.7,167.3 L857.1,166.7 L857.6,167.5 L858.0,167.0 L858.5,167.4 L858.9,167.5 L859.3,167.6 L859.8,166.9 L860.2,167.7 L860.7,166.6 L861.1,167.6 L861.5,167.5 L862.0,167.7 L862.4,167.1 L862.9,167.2 L863.3,165.4 L863.7,167.4 L864.2,167.4 L864.6,167.1 L865.0,164.0 L865.5,166.0 L865.9,166.0 L866.4,167.2 L866.8,164.5 L867.2,166.6 L867.7,156.0 L868.1,165.8 L868.6,161.8 L869.0,165.3 L869.4,161.6 L869.9,165.3 L870.3,159.4 L870.8,165.3 L871.2,162.4 L871.6,165.6 L872.1,163.7 L872.5,166.2 L873.0,164.3 L873.4,164.1 L873.8,159.7 L874.3,164.2 L874.7,155.6 L875.1,161.6 L875.6,158.5 L876.0,163.9 L876.5,157.9 L876.9,160.9 L877.3,150.9 L877.8,138.5 L878.2,140.8 L878.7,157.3 L879.1,164.5 L879.5,167.7 L880.0,167.1 L880.4,167.8 L880.9,166.4 L881.3,167.8 L881.7,166.9 L882.2,167.4 L882.6,167.5 L883.1,167.2 L883.5,161.9 L883.9,167.6 L884.4,166.8 L884.8,166.3 L885.3,163.0 L885.7,166.8 L886.1,163.6 L886.6,167.6 L887.0,167.2 L887.4,167.8 L887.9,167.6 L888.3,166.2 L888.8,166.7 L889.2,167.5 L889.6,167.5 L890.1,166.5 L890.5,167.6 L891.0,167.3 L891.4,166.7 L891.8,167.2 L892.3,166.2 L892.7,167.3 L893.2,166.8 L893.6,167.6 L894.0,166.0 L894.5,167.8 L894.9,167.3 L895.4,165.5 L895.8,165.5 L896.2,167.4 L896.7,167.6 L897.1,167.1 L897.5,164.3 L898.0,167.6 L898.4,167.2 L898.9,167.7 L899.3,165.0 L899.7,167.8 L900.2,167.6 L900.6,165.9 L901.1,164.3 L901.5,167.6 L901.9,167.4 L902.4,167.9 L902.8,167.7 L903.3,167.9 L903.7,166.7 L904.1,167.3 L904.6,163.6 L905.0,166.4 L905.5,167.6 L905.9,167.9 L906.3,166.8 L906.8,167.8 L907.2,165.7 L907.7,167.6 L908.1,167.3 L908.5,167.7 L909.0,167.5 L909.4,167.6 L909.8,167.6 L910.3,166.6 L910.7,166.5 L911.2,167.2 L911.6,165.6 L912.0,167.5 L912.5,166.1 L912.9,167.5 L913.4,167.3 L913.8,167.9 L914.2,167.3 L914.7,167.7 L915.1,166.8 L915.6,166.0 L916.0,167.1 L916.4,167.9 L916.9,167.7 L917.3,165.2 L917.8,166.3 L918.2,167.7 L918.6,167.7 L919.1,166.5 L919.5,167.7 L919.9,167.2 L920.4,167.4 L920.8,167.7 L921.3,166.6 L921.7,167.8 L922.1,167.3 L922.6,167.6 L923.0,167.4 L923.5,167.9 L923.9,167.4 L924.3,167.9 L924.8,167.5 L925.2,167.8 L925.7,167.6 L926.1,164.4 L926.5,167.0 L927.0,167.1 L927.4,166.0 L927.9,167.8 L928.3,167.7 L928.7,166.4 L929.2,167.3 L929.6,167.6 L930.0,166.4 L930.5,167.8 L930.9,167.2 L931.4,167.8 L931.8,167.6 L932.2,167.9 L932.7,167.6 L933.1,167.8 L933.6,166.8 L934.0,167.7 L934.4,166.7 L934.9,167.8 L935.3,167.6 L935.8,167.6 L936.2,167.5 L936.6,167.4 L937.1,167.4 L937.5,167.8 L938.0,166.7 L938.4,167.8 L938.8,166.8 L939.3,167.7 L939.7,167.7 L940.2,167.5 L940.6,167.0 L941.0,167.9 L941.5,167.3 L941.9,167.7 L942.3,166.7 L942.8,167.8 L943.2,167.1 L943.7,166.1 L944.1,167.3 L944.5,165.3 L945.0,160.2 L945.4,159.5 L945.9,166.9 L946.3,167.6 L946.7,167.2 L947.2,166.9 L947.6,165.9 L948.1,166.8 L948.5,163.3 L948.9,167.7 L949.4,166.4 L949.8,167.0 L950.3,167.6 L950.7,167.4 L951.1,166.9 L951.6,166.9 L952.0,166.8 L952.4,165.5 L952.9,166.7 L953.3,167.8 L953.8,165.1 L954.2,167.5 L954.6,165.6 L955.1,167.3 L955.5,165.4 L956.0,166.9 L956.4,164.3 L956.8,166.0 L957.3,163.6 L957.7,165.5 L958.2,163.1 L958.6,166.1 L959.0,164.3 L959.5,166.6 L959.9,165.1 L960.4,166.0 L960.8,166.2 L961.2,166.8 L961.7,166.2 L962.1,167.2 L962.6,166.5 L963.0,167.7 L963.4,163.6 L963.9,167.6 L964.3,165.0 L964.7,167.9 L965.2,165.8 L965.6,167.8 L966.1,165.5 L966.5,165.0 L966.9,163.6 L967.4,164.0 L967.8,162.6 L968.3,162.4 L968.7,161.0 L969.1,162.1 L969.6,159.0 L970.0,160.9 L970.5,156.9 L970.9,160.0 L971.3,156.9 L971.8,158.1 L972.2,155.9 L972.7,158.1 L973.1,158.5 L973.5,161.2 L974.0,160.9 L974.4,161.5 L974.8,159.7 L975.3,161.0 L975.7,158.4 L976.2,158.6 L976.6,155.6 L977.0,157.5 L977.5,155.1 L977.9,155.9 L978.4,155.1 L978.8,157.4 L979.2,156.6 L979.7,157.2 L980.1,155.1 L980.6,154.3 L981.0,145.7 L981.4,147.3 L981.9,124.5 L982.3,107.1 L982.8,85.2 L983.2,65.7 L983.6,42.7 L984.1,53.0 L984.5,69.6 L984.9,94.4 L985.4,120.2 L985.8,145.7 L986.3,163.2 L986.7,167.8 L987.1,167.5 L987.6,167.9 L988.0,167.1 L988.5,166.7 L988.9,167.5 L989.3,167.8 L989.8,167.1 L990.2,167.9 L990.7,167.3 L991.1,166.7 L991.5,167.7 L992.0,167.0 L992.4,164.7 L992.9,167.5 L993.3,167.6 L993.7,165.1 L994.2,167.5 L994.6,167.6 L995.1,167.6 L995.5,167.8 L995.9,167.6 L996.4,167.7 L996.8,167.6 L997.2,167.6 L997.7,167.0 L998.1,167.6 L998.6,160.2 L999.0,162.8 L999.4,159.5 L999.9,167.0 L1000.3,166.9 L1000.8,167.9 L1001.2,167.7 L1001.6,167.9 L1002.1,167.6 L1002.5,167.6 L1003.0,164.8 L1003.4,167.7 L1003.8,166.3 L1004.3,167.7 L1004.7,164.4 L1005.2,167.7 L1005.6,167.5 L1006.0,167.8 L1006.5,167.6 L1006.9,167.8 L1007.3,165.2 L1007.8,167.3 L1008.2,167.6 L1008.7,167.5 L1009.1,167.1 L1009.5,167.8 L1010.0,163.4 L1010.4,166.6 L1010.9,166.9 L1011.3,167.7 L1011.7,167.0 L1012.2,165.8 L1012.6,166.2 L1013.1,167.7 L1013.5,166.4 L1013.9,167.6 L1014.4,165.6 L1014.8,167.5 L1015.3,167.4 L1015.7,167.1 L1016.1,167.3 L1016.6,167.8 L1017.0,165.5 L1017.5,167.8 L1017.9,166.3 L1018.3,166.8 L1018.8,166.2 L1019.2,166.3 L1019.6,163.7 L1020.1,167.6 L1020.5,166.5 L1021.0,167.8 L1021.4,162.5 L1021.8,167.3 L1022.3,166.3 L1022.7,167.4 L1023.2,166.8 L1023.6,165.8 L1024.0,167.5 L1024.5,167.7 L1024.9,167.6 L1025.4,167.3 L1025.8,167.4 L1026.2,166.4 L1026.7,167.5 L1027.1,167.6 L1027.6,165.1 L1028.0,167.3 L1028.4,166.9 L1028.9,167.1 L1029.3,166.9 L1029.7,167.7 L1030.2,162.4 L1030.6,166.6 L1031.1,165.8 L1031.5,167.6 L1031.9,166.6 L1032.4,167.7 L1032.8,166.9 L1033.3,164.7 L1033.7,160.0 L1034.1,164.1 L1034.6,155.4 L1035.0,163.6 L1035.5,153.1 L1035.9,163.5 L1036.3,158.5 L1036.8,159.8 L1037.2,154.1 L1037.7,152.9 L1038.1,161.6 L1038.5,162.4 L1039.0,154.1 L1039.4,162.5 L1039.8,162.0 L1040.3,150.4 L1040.7,151.8 L1041.2,160.1 L1041.6,160.7 L1042.0,163.5 L1042.5,164.9 L1042.9,167.7 L1043.4,167.0 L1043.8,167.8 L1044.2,167.4 L1044.7,167.4 L1045.1,167.2 L1045.6,167.7 L1046.0,166.0 L1046.4,166.0 L1046.9,164.8 L1047.3,167.7 L1047.8,167.0 L1048.2,167.8 L1048.6,166.7 L1049.1,165.9 L1049.5,167.2 L1050.0,166.9 L1050.4,166.5 L1050.8,166.5 L1051.3,164.7 L1051.7,167.5 L1052.1,166.9 L1052.6,166.1 L1053.0,167.3 L1053.5,167.7 L1053.9,166.7 L1054.3,167.4 L1054.8,167.0 L1055.2,167.6 L1055.7,164.2 L1056.1,167.4 L1056.5,167.0 L1057.0,166.7 L1057.4,164.7 L1057.9,167.0 L1058.3,162.4 L1058.7,165.9 L1059.2,166.6 L1059.6,166.6 L1060.1,162.0 L1060.5,165.9 L1060.9,165.5 L1061.4,166.2 L1061.8,166.8 L1062.2,166.9 L1062.7,165.3 L1062.7,168.0 Z" fill="#058dc7" fill-opacity="0.1"/>
<path d="M13.0,167.8 L13.4,167.9 L13.9,167.8 L14.3,167.9 L14.8,167.8 L15.2,167.9 L15.6,167.8 L16.1,167.9 L16.5,167.8 L17.0,167.9 L17.4,167.8 L17.8,167.9 L18.3,167.8 L18.7,167.9 L19.1,167.8 L19.6,167.9 L20.0,167.8 L20.5,167.9 L20.9,167.8 L21.3,167.9 L21.8,167.8 L22.2,167.9 L22.7,167.8 L23.1,167.9 L23.5,167.8 L24.0,167.9 L24.4,166.2 L24.9,165.1 L25.3,165.1 L25.7,166.7 L26.2,164.6 L26.6,164.9 L27.1,162.8 L27.5,165.8 L27.9,164.5 L28.4,165.8 L28.8,159.1 L29.3,155.0 L29.7,138.6 L30.1,136.0 L30.6,138.6 L31.0,155.3 L31.4,161.0 L31.9,165.5 L32.3,156.2 L32.8,162.7 L33.2,163.5 L33.6,165.9 L34.1,167.2 L34.5,166.8 L35.0,166.6 L35.4,167.4 L35.8,163.8 L36.3,167.3 L36.7,166.7 L37.2,167.8 L37.6,167.4 L38.0,166.9 L38.5,166.3 L38.9,166.9 L39.4,162.7 L39.8,165.1 L40.2,164.8 L40.7,167.5 L41.1,164.8 L41.5,164.9 L42.0,159.5 L42.4,162.1 L42.9,158.7 L43.3,161.9 L43.7,159.5 L44.2,167.0 L44.6,166.8 L45.1,167.3 L45.5,164.5 L45.9,164.6 L46.4,157.9 L46.8,162.3 L47.3,158.6 L47.7,157.0 L48.1,157.9 L48.6,163.8 L49.0,163.8 L49.5,165.7 L49.9,160.5 L50.3,164.1 L50.8,159.8 L51.2,164.8 L51.6,161.8 L52.1,166.1 L52.5,162.6 L53.0,164.4 L53.4,163.2 L53.8,164.3 L54.3,162.4 L54.7,164.0 L55.2,162.0 L55.6,166.0 L56.0,165.9 L56.5,165.0 L56.9,167.1 L57.4,167.4 L57.8,165.1 L58.2,167.4 L58.7,166.3 L59.1,167.0 L59.6,165.1 L60.0,166.9 L60.4,167.6 L60.9,167.5 L61.3,166.7 L61.8,167.8 L62.2,166.5 L62.6,167.2 L63.1,165.1 L63.5,166.0 L63.9,167.4 L64.4,167.6 L64.8,166.1 L65.3,167.7 L65.7,167.2 L66.1,167.3 L66.6,167.3 L67.0,166.8 L67.5,164.8 L67.9,167.8 L68.3,166.5 L68.8,166.8 L69.2,162.3 L69.7,166.3 L70.1,167.3 L70.5,166.5 L71.0,164.1 L71.4,167.7 L71.9,166.7 L72.3,167.0 L72.7,164.8 L73.2,167.7 L73.6,161.4 L74.0,166.7 L74.5,166.2 L74.9,167.0 L75.4,161.7 L75.8,162.5 L76.2,154.3 L76.7,165.4 L77.1,163.9 L77.6,162.6 L78.0,156.1 L78.4,155.0 L78.9,156.1 L79.3,159.7 L79.8,160.7 L80.2,167.3 L80.6,167.3 L81.1,167.5 L81.5,166.0 L82.0,165.6 L82.4,158.7 L82.8,166.4 L83.3,162.8 L83.7,163.7 L84.2,156.7 L84.6,164.7 L85.0,160.8 L85.5,164.9 L85.9,159.9 L86.3,164.8 L86.8,163.7 L87.2,165.6 L87.7,162.3 L88.1,165.5 L88.5,159.1 L89.0,164.9 L89.4,162.2 L89.9,166.5 L90.3,164.7 L90.7,166.7 L91.2,166.2 L91.6,167.0 L92.1,165.9 L92.5,167.4 L92.9,165.2 L93.4,167.6 L93.8,167.1 L94.3,167.4 L94.7,166.7 L95.1,167.6 L95.6,163.3 L96.0,166.5 L96.4,167.3 L96.9,167.4 L97.3,167.0 L97.8,167.3 L98.2,166.9 L98.6,167.2 L99.1,163.2 L99.5,167.4 L100.0,165.7 L100.4,167.1 L100.8,165.2 L101.3,167.7 L101.7,165.2 L102.2,165.6 L102.6,166.0 L103.0,167.5 L103.5,161.4 L103.9,166.9 L104.4,165.8 L104.8,167.7 L105.2,161.7 L105.7,165.5 L106.1,166.6 L106.5,167.1 L107.0,167.4 L107.4,164.6 L107.9,164.8 L108.3,167.1 L108.7,165.3 L109.2,167.6 L109.6,167.0 L110.1,166.0 L110.5,166.2 L110.9,167.7 L111.4,164.1 L111.8,167.4 L112.3,166.7 L112.7,167.1 L113.1,165.9 L113.6,166.7 L114.0,166.1 L114.5,167.6 L114.9,165.4 L115.3,167.7 L115.8,165.1 L116.2,167.3 L116.7,164.9 L117.1,165.6 L117.5,165.2 L118.0,165.2 L118.4,158.8 L118.8,158.0 L119.3,158.8 L119.7,161.5 L120.2,164.2 L120.6,167.1 L121.0,167.1 L121.5,167.0 L121.9,166.6 L122.4,167.5 L122.8,164.8 L123.2,167.8 L123.7,166.6 L124.1,166.0 L124.6,167.6 L125.0,167.1 L125.4,166.7 L125.9,166.7 L126.3,166.6 L126.8,167.6 L127.2,162.9 L127.6,167.8 L128.1,167.6 L128.5,167.2 L128.9,167.2 L129.4,167.6 L129.8,165.5 L130.3,167.7 L130.7,165.4 L131.1,167.4 L131.6,167.3 L132.0,167.8 L132.5,167.4 L132.9,166.3 L133.3,167.2 L133.8,167.8 L134.2,167.4 L134.7,166.9 L135.1,167.5 L135.5,167.3 L136.0,167.6 L136.4,166.6 L136.9,167.0 L137.3,167.9 L137.7,165.4 L138.2,167.7 L138.6,166.6 L139.1,167.6 L139.5,167.7 L139.9,167.8 L140.4,167.6 L140.8,167.8 L141.2,167.7 L141.7,167.9 L142.1,165.3 L142.6,167.9 L143.0,164.2 L143.4,167.8 L143.9,167.6 L144.3,167.4 L144.8,165.6 L145.2,167.7 L145.6,167.8 L146.1,165.4 L146.5,167.7 L147.0,167.7 L147.4,167.2 L147.8,167.1 L148.3,161.8 L148.7,167.6 L149.2,167.4 L149.6,167.3 L150.0,163.8 L150.5,167.2 L150.9,166.8 L151.3,167.9 L151.8,167.5 L152.2,167.7 L152.7,167.3 L153.1,167.3 L153.5,167.6 L154.0,167.5 L154.4,167.4 L154.9,167.4 L155.3,167.6 L155.7,166.0 L156.2,167.7 L156.6,167.8 L157.1,165.8 L157.5,167.8 L157.9,166.1 L158.4,167.7 L158.8,167.7 L159.3,167.4 L159.7,167.7 L160.1,167.3 L160.6,167.8 L161.0,167.5 L161.4,167.6 L161.9,167.8 L162.3,165.5 L162.8,167.7 L163.2,167.0 L163.6,167.4 L164.1,167.7 L164.5,167.3 L165.0,165.9 L165.4,167.8 L165.8,167.2 L166.3,167.8 L166.7,166.7 L167.2,167.9 L167.6,167.2 L168.0,167.4 L168.5,166.8 L168.9,167.9 L169.4,166.4 L169.8,167.8 L170.2,166.5 L170.7,167.7 L171.1,167.6 L171.6,167.4 L172.0,166.5 L172.4,167.5 L172.9,165.1 L173.3,167.8 L173.7,167.5 L174.2,167.8 L174.6,167.1 L175.1,167.7 L175.5,167.4 L175.9,167.7 L176.4,167.5 L176.8,167.9 L177.3,167.2 L177.7,167.8 L178.1,167.3 L178.6,166.9 L179.0,167.6 L179.5,167.5 L179.9,166.9 L180.3,167.8 L180.8,167.2 L181.2,166.6 L181.7,167.4 L182.1,167.4 L182.5,166.2 L183.0,167.7 L183.4,163.9 L183.8,167.5 L184.3,167.2 L184.7,167.4 L185.2,167.3 L185.6,167.4 L186.0,167.5 L186.5,166.9 L186.9,167.1 L187.4,167.6 L187.8,163.6 L188.2,162.2 L188.7,154.7 L189.1,164.3 L189.6,154.7 L190.0,153.5 L190.4,154.7 L190.9,164.3 L191.3,154.7 L191.8,161.7 L192.2,163.1 L192.6,166.7 L193.1,162.4 L193.5,164.4 L194.0,160.8 L194.4,165.4 L194.8,164.7 L195.3,167.8 L195.7,167.2 L196.1,167.6 L196.6,166.9 L197.0,167.8 L197.5,166.9 L197.9,166.9 L198.3,165.7 L198.8,166.8 L199.2,165.7 L199.7,166.7 L200.1,167.7 L200.5,167.0 L201.0,167.5 L201.4,167.8 L201.9,167.3 L202.3,166.8 L202.7,167.0 L203.2,167.7 L203.6,167.4 L204.1,167.1 L204.5,166.4 L204.9,167.8 L205.4,167.5 L205.8,167.7 L206.2,167.6 L206.7,167.6 L207.1,167.6 L207.6,167.6 L208.0,165.7 L208.4,166.3 L208.9,167.7 L209.3,167.8 L209.8,167.4 L210.2,167.6 L210.6,167.4 L211.1,167.8 L211.5,167.5 L212.0,167.8 L212.4,166.4 L212.8,167.5 L213.3,167.4 L213.7,167.5 L214.2,167.3 L214.6,167.7 L215.0,167.5 L215.5,167.7 L215.9,164.9 L216.3,167.4 L216.8,166.6 L217.2,167.9 L217.7,167.3 L218.1,167.8 L218.5,167.7 L219.0,167.8 L219.4,167.8 L219.9,167.8 L220.3,166.8 L220.7,167.6 L221.2,167.0 L221.6,167.9 L222.1,167.7 L222.5,167.9 L222.9,167.7 L223.4,167.9 L223.8,165.8 L224.3,167.3 L224.7,167.7 L225.1,167.8 L225.6,163.8 L226.0,167.7 L226.5,167.5 L226.9,167.0 L227.3,167.6 L227.8,167.7 L228.2,167.0 L228.6,167.7 L229.1,166.8 L229.5,167.9 L230.0,167.2 L230.4,166.7 L230.8,167.7 L231.3,167.7 L231.7,167.2 L232.2,167.8 L232.6,164.0 L233.0,167.7 L233.5,167.4 L233.9,167.3 L234.4,167.8 L234.8,167.3 L235.2,167.7 L235.7,167.8 L236.1,167.4 L236.6,167.7 L237.0,167.8 L237.4,167.8 L237.9,167.5 L238.3,167.0 L238.7,166.2 L239.2,167.7 L239.6,166.1 L240.1,167.3 L240.5,167.5 L240.9,167.9 L241.4,167.2 L241.8,167.8 L242.3,167.8 L242.7,166.7 L243.1,165.4 L243.6,167.7 L244.0,167.1 L244.5,167.6 L244.9,166.0 L245.3,167.7 L245.8,167.2 L246.2,167.8 L246.7,167.6 L247.1,167.7 L247.5,167.6 L248.0,167.9 L248.4,167.4 L248.9,167.4 L249.3,167.5 L249.7,167.2 L250.2,166.8 L250.6,167.5 L251.0,166.0 L251.5,167.0 L251.9,167.6 L252.4,167.0 L252.8,165.9 L253.2,167.9 L253.7,166.5 L254.1,167.9 L254.6,167.6 L255.0,167.8 L255.4,167.5 L255.9,167.7 L256.3,165.7 L256.8,167.7 L257.2,167.6 L257.6,167.8 L258.1,167.7 L258.5,167.9 L259.0,167.2 L259.4,167.6 L259.8,167.5 L260.3,167.7 L260.7,167.6 L261.1,167.4 L261.6,167.3 L262.0,167.8 L262.5,167.1 L262.9,167.8 L263.3,167.4 L263.8,167.8 L264.2,166.3 L264.7,167.7 L265.1,164.7 L265.5,167.6 L266.0,167.5 L266.4,166.3 L266.9,166.4 L267.3,166.9 L267.7,167.6 L268.2,167.2 L268.6,165.7 L269.1,165.6 L269.5,167.1 L269.9,167.4 L270.4,167.4 L270.8,166.9 L271.2,166.5 L271.7,167.0 L272.1,167.1 L272.6,167.5 L273.0,167.5 L273.4,167.7 L273.9,164.5 L274.3,166.4 L274.8,167.5 L275.2,167.8 L275.6,167.6 L276.1,167.6 L276.5,166.0 L277.0,167.7 L277.4,167.0 L277.8,167.5 L278.3,165.7 L278.7,167.8 L279.2,167.7 L279.6,167.5 L280.0,167.2 L280.5,167.7 L280.9,166.1 L281.4,167.3 L281.8,167.6 L282.2,167.5 L282.7,166.0 L283.1,166.7 L283.5,167.7 L284.0,167.1 L284.4,167.6 L284.9,167.3 L285.3,166.7 L285.7,166.4 L286.2,166.6 L286.6,167.8 L287.1,166.5 L287.5,167.7 L287.9,162.9 L288.4,167.8 L288.8,167.3 L289.3,167.3 L289.7,167.5 L290.1,167.4 L290.6,166.4 L291.0,167.2 L291.5,165.5 L291.9,167.6 L292.3,167.5 L292.8,167.7 L293.2,167.2 L293.6,167.8 L294.1,166.4 L294.5,167.8 L295.0,167.6 L295.4,165.7 L295.8,166.0 L296.3,167.7 L296.7,167.3 L297.2,167.1 L297.6,166.7 L298.0,167.7 L298.5,167.1 L298.9,167.0 L299.4,167.7 L299.8,165.7 L300.2,166.9 L300.7,167.8 L301.1,166.1 L301.6,167.8 L302.0,167.2 L302.4,167.5 L302.9,167.4 L303.3,166.9 L303.8,166.6 L304.2,167.8 L304.6,167.6 L305.1,167.8 L305.5,166.9 L305.9,167.8 L306.4,167.0 L306.8,167.2 L307.3,165.8 L307.7,166.6 L308.1,167.3 L308.6,167.7 L309.0,167.3 L309.5,167.7 L309.9,167.2 L310.3,166.7 L310.8,167.4 L311.2,167.7 L311.7,167.3 L312.1,167.8 L312.5,164.6 L313.0,167.7 L313.4,165.5 L313.9,167.2 L314.3,167.5 L314.7,167.8 L315.2,166.4 L315.6,167.6 L316.0,167.7 L316.5,167.5 L316.9,167.3 L317.4,167.3 L317.8,166.5 L318.2,166.9 L318.7,166.7 L319.1,166.9 L319.6,167.4 L320.0,167.7 L320.4,167.7 L320.9,167.1 L321.3,167.6 L321.8,167.6 L322.2,167.1 L322.6,167.2 L323.1,167.3 L323.5,167.8 L324.0,167.3 L324.4,167.9 L324.8,167.4 L325.3,167.5 L325.7,167.7 L326.1,166.1 L326.6,167.1 L327.0,167.7 L327.5,164.0 L327.9,167.8 L328.3,167.4 L328.8,166.8 L329.2,167.5 L329.7,167.4 L330.1,167.7 L330.5,167.6 L331.0,163.6 L331.4,167.8 L331.9,167.4 L332.3,167.6 L332.7,166.9 L333.2,167.8 L333.6,167.3 L334.1,164.6 L334.5,167.4 L334.9,167.3 L335.4,167.5 L335.8,167.6 L336.3,167.1 L336.7,167.5 L337.1,166.6 L337.6,167.2 L338.0,166.6 L338.4,167.2 L338.9,165.7 L339.3,167.7 L339.8,166.1 L340.2,167.6 L340.6,167.4 L341.1,167.8 L341.5,166.4 L342.0,167.5 L342.4,167.6 L342.8,166.9 L343.3,167.7 L343.7,167.7 L344.2,166.9 L344.6,167.4 L345.0,167.6 L345.5,166.5 L345.9,166.9 L346.4,167.0 L346.8,163.2 L347.2,163.5 L347.7,156.4 L348.1,164.5 L348.5,152.2 L349.0,156.4 L349.4,149.5 L349.9,162.0 L350.3,150.9 L350.7,163.1 L351.2,163.5 L351.6,164.4 L352.1,159.2 L352.5,165.5 L352.9,166.8 L353.4,167.5 L353.8,167.2 L354.3,167.6 L354.7,165.9 L355.1,167.5 L355.6,166.6 L356.0,167.4 L356.5,166.4 L356.9,167.6 L357.3,165.9 L357.8,167.5 L358.2,165.7 L358.7,167.6 L359.1,166.6 L359.5,167.8 L360.0,167.6 L360.4,166.7 L360.8,167.3 L361.3,167.9 L361.7,166.8 L362.2,166.7 L362.6,166.4 L363.0,166.1 L363.5,165.2 L363.9,167.6 L364.4,163.1 L364.8,167.8 L365.2,167.4 L365.7,167.5 L366.1,165.5 L366.6,167.9 L367.0,166.2 L367.4,167.3 L367.9,166.7 L368.3,167.8 L368.8,167.7 L369.2,167.4 L369.6,166.8 L370.1,166.5 L370.5,167.4 L370.9,167.9 L371.4,163.5 L371.8,167.2 L372.3,164.7 L372.7,165.5 L373.1,163.0 L373.6,167.2 L374.0,167.6 L374.5,167.5 L374.9,167.5 L375.3,167.7 L375.8,166.1 L376.2,167.7 L376.7,166.0 L377.1,167.6 L377.5,165.1 L378.0,167.8 L378.4,167.8 L378.9,167.6 L379.3,166.4 L379.7,167.8 L380.2,167.3 L380.6,166.5 L381.0,167.4 L381.5,167.0 L381.9,166.5 L382.4,167.7 L382.8,167.1 L383.2,167.9 L383.7,167.3 L384.1,167.5 L384.6,167.6 L385.0,167.9 L385.4,167.8 L385.9,167.9 L386.3,167.6 L386.8,167.4 L387.2,167.4 L387.6,167.7 L388.1,167.6 L388.5,166.0 L389.0,167.3 L389.4,167.5 L389.8,167.7 L390.3,167.8 L390.7,167.2 L391.2,167.0 L391.6,167.6 L392.0,167.8 L392.5,167.3 L392.9,167.9 L393.3,167.3 L393.8,167.0 L394.2,167.6 L394.7,167.8 L395.1,167.8 L395.5,167.7 L396.0,162.7 L396.4,167.7 L396.9,167.7 L397.3,167.8 L397.7,167.3 L398.2,167.5 L398.6,167.5 L399.1,165.9 L399.5,166.5 L399.9,167.1 L400.4,162.2 L400.8,165.0 L401.3,161.7 L401.7,165.9 L402.1,166.2 L402.6,167.5 L403.0,166.1 L403.4,166.2 L403.9,163.1 L404.3,165.9 L404.8,165.3 L405.2,167.4 L405.6,167.6 L406.1,167.6 L406.5,166.6 L407.0,167.9 L407.4,163.6 L407.8,167.7 L408.3,167.2 L408.7,167.9 L409.2,167.3 L409.6,167.6 L410.0,167.1 L410.5,167.8 L410.9,165.2 L411.4,167.8 L411.8,167.8 L412.2,167.9 L412.7,167.5 L413.1,167.8 L413.6,167.1 L414.0,167.7 L414.4,167.8 L414.9,167.8 L415.3,167.2 L415.7,167.8 L416.2,167.7 L416.6,167.4 L417.1,167.6 L417.5,166.3 L417.9,167.5 L418.4,167.9 L418.8,167.7 L419.3,167.7 L419.7,167.1 L420.1,167.8 L420.6,167.8 L421.0,167.8 L421.5,167.6 L421.9,167.8 L422.3,167.7 L422.8,167.6 L423.2,167.8 L423.7,167.9 L424.1,164.6 L424.5,167.0 L425.0,167.7 L425.4,167.9 L425.8,167.4 L426.3,167.4 L426.7,165.6 L427.2,167.8 L427.6,167.7 L428.0,167.6 L428.5,165.5 L428.9,167.8 L429.4,167.3 L429.8,167.8 L430.2,167.7 L430.7,167.8 L431.1,166.3 L431.6,167.6 L432.0,167.5 L432.4,167.7 L432.9,167.8 L433.3,167.8 L433.8,166.7 L434.2,167.9 L434.6,165.8 L435.1,167.5 L435.5,167.3 L435.9,167.8 L436.4,167.8 L436.8,167.8 L437.3,163.9 L437.7,167.8 L438.1,167.0 L438.6,167.9 L439.0,166.9 L439.5,167.5 L439.9,167.2 L440.3,167.9 L440.8,167.7 L441.2,167.9 L441.7,167.8 L442.1,167.6 L442.5,167.5 L443.0,167.6 L443.4,167.7 L443.9,167.8 L444.3,166.7 L444.7,166.5 L445.2,167.8 L445.6,167.6 L446.1,167.4 L446.5,167.9 L446.9,167.3 L447.4,167.8 L447.8,167.6 L448.2,167.1 L448.7,167.1 L449.1,167.9 L449.6,167.2 L450.0,167.9 L450.4,166.7 L450.9,167.7 L451.3,167.3 L451.8,167.9 L452.2,165.3 L452.6,167.8 L453.1,167.6 L453.5,167.5 L454.0,167.7 L454.4,167.8 L454.8,167.8 L455.3,166.9 L455.7,166.3 L456.2,167.9 L456.6,167.1 L457.0,167.9 L457.5,166.7 L457.9,167.8 L458.3,167.8 L458.8,167.6 L459.2,166.7 L459.7,167.9 L460.1,167.8 L460.5,167.9 L461.0,167.5 L461.4,167.2 L461.9,166.8 L462.3,167.8 L462.7,167.8 L463.2,167.7 L463.6,167.4 L464.1,167.9 L464.5,167.4 L464.9,167.0 L465.4,167.8 L465.8,167.8 L466.3,166.9 L466.7,167.9 L467.1,163.7 L467.6,167.9 L468.0,167.1 L468.5,167.9 L468.9,167.8 L469.3,167.7 L469.8,167.1 L470.2,167.6 L470.6,167.5 L471.1,167.4 L471.5,167.8 L472.0,167.8 L472.4,167.6 L472.8,167.7 L473.3,167.7 L473.7,167.9 L474.2,165.7 L474.6,167.8 L475.0,167.5 L475.5,167.4 L475.9,167.7 L476.4,167.8 L476.8,167.4 L477.2,167.9 L477.7,167.8 L478.1,167.7 L478.6,167.6 L479.0,167.9 L479.4,167.7 L479.9,167.7 L480.3,167.1 L480.7,167.8 L481.2,167.7 L481.6,167.5 L482.1,167.7 L482.5,167.6 L482.9,167.8 L483.4,166.4 L483.8,167.1 L484.3,167.8 L484.7,167.5 L485.1,167.7 L485.6,167.3 L486.0,167.7 L486.5,167.2 L486.9,167.9 L487.3,167.5 L487.8,167.6 L488.2,167.5 L488.7,167.0 L489.1,167.4 L489.5,167.8 L490.0,166.6 L490.4,167.8 L490.8,167.4 L491.3,167.7 L491.7,166.7 L492.2,167.9 L492.6,166.6 L493.0,167.7 L493.5,167.5 L493.9,167.8 L494.4,165.4 L494.8,167.1 L495.2,167.3 L495.7,167.8 L496.1,165.5 L496.6,167.9 L497.0,167.8 L497.4,167.7 L497.9,167.2 L498.3,167.9 L498.8,167.7 L499.2,167.9 L499.6,163.7 L500.1,167.8 L500.5,167.7 L501.0,167.9 L501.4,163.7 L501.8,167.9 L502.3,166.7 L502.7,167.7 L503.1,167.7 L503.6,167.6 L504.0,166.7 L504.5,167.8 L504.9,167.8 L505.3,167.5 L505.8,166.7 L506.2,167.2 L506.7,166.8 L507.1,167.6 L507.5,167.4 L508.0,167.8 L508.4,167.3 L508.9,166.5 L509.3,162.6 L509.7,164.5 L510.2,159.9 L510.6,163.9 L511.1,155.2 L511.5,159.2 L511.9,154.1 L512.4,162.9 L512.8,155.2 L513.2,165.2 L513.7,166.5 L514.1,167.6 L514.6,164.5 L515.0,167.2 L515.4,167.6 L515.9,167.8 L516.3,167.2 L516.8,167.8 L517.2,166.5 L517.6,167.3 L518.1,167.4 L518.5,166.9 L519.0,167.0 L519.4,167.8 L519.8,166.8 L520.3,167.4 L520.7,166.5 L521.2,166.4 L521.6,165.4 L522.0,167.6 L522.5,167.2 L522.9,166.2 L523.4,167.2 L523.8,167.8 L524.2,167.6 L524.7,167.1 L525.1,164.0 L525.5,167.8 L526.0,166.6 L526.4,167.5 L526.9,163.5 L527.3,167.1 L527.7,167.4 L528.2,167.8 L528.6,167.0 L529.1,167.8 L529.5,166.5 L529.9,164.5 L530.4,166.0 L530.8,166.9 L531.3,167.6 L531.7,167.6 L532.1,165.3 L532.6,167.0 L533.0,166.8 L533.5,167.4 L533.9,167.4 L534.3,167.7 L534.8,167.6 L535.2,166.8 L535.6,167.3 L536.1,165.6 L536.5,167.7 L537.0,167.1 L537.4,166.9 L537.8,167.8 L538.3,166.5 L538.7,165.2 L539.2,166.4 L539.6,167.3 L540.0,166.5 L540.5,167.2 L540.9,167.2 L541.4,166.4 L541.8,167.0 L542.2,167.7 L542.7,162.6 L543.1,167.7 L543.6,167.1 L544.0,167.3 L544.4,166.0 L544.9,167.7 L545.3,167.6 L545.7,167.5 L546.2,166.8 L546.6,167.3 L547.1,167.4 L547.5,167.1 L547.9,166.2 L548.4,165.7 L548.8,166.3 L549.3,167.4 L549.7,166.9 L550.1,167.0 L550.6,167.4 L551.0,167.4 L551.5,163.8 L551.9,167.2 L552.3,167.6 L552.8,167.7 L553.2,165.1 L553.7,167.2 L554.1,167.5 L554.5,167.6 L555.0,166.1 L555.4,167.0 L555.9,167.0 L556.3,167.8 L556.7,167.5 L557.2,167.9 L557.6,167.5 L558.0,167.8 L558.5,166.6 L558.9,167.4 L559.4,167.2 L559.8,167.0 L560.2,167.6 L560.7,167.8 L561.1,166.9 L561.6,167.6 L562.0,167.6 L562.4,166.9 L562.9,166.8 L563.3,167.5 L563.8,167.3 L564.2,167.5 L564.6,167.5 L565.1,167.5 L565.5,165.5 L566.0,166.3 L566.4,162.7 L566.8,164.6 L567.3,162.1 L567.7,164.4 L568.1,162.9 L568.6,166.7 L569.0,167.3 L569.5,167.8 L569.9,167.5 L570.3,167.2 L570.8,167.5 L571.2,167.8 L571.7,167.5 L572.1,167.4 L572.5,167.0 L573.0,167.0 L573.4,166.7 L573.9,166.9 L574.3,162.7 L574.7,165.8 L575.2,162.0 L575.6,165.8 L576.1,165.2 L576.5,167.3 L576.9,166.2 L577.4,167.8 L577.8,165.1 L578.3,167.9 L578.7,167.6 L579.1,167.5 L579.6,165.2 L580.0,165.6 L580.4,167.3 L580.9,167.9 L581.3,167.6 L581.8,167.6 L582.2,166.0 L582.6,167.8 L583.1,167.3 L583.5,167.6 L584.0,166.9 L584.4,167.4 L584.8,167.4 L585.3,167.7 L585.7,166.0 L586.2,167.0 L586.6,167.3 L587.0,165.7 L587.5,167.6 L587.9,167.2 L588.4,165.7 L588.8,167.6 L589.2,166.7 L589.7,167.9 L590.1,166.2 L590.5,167.4 L591.0,167.0 L591.4,167.5 L591.9,167.6 L592.3,167.2 L592.7,167.1 L593.2,167.5 L593.6,167.6 L594.1,167.5 L594.5,167.5 L594.9,165.7 L595.4,167.7 L595.8,167.8 L596.3,167.5 L596.7,167.7 L597.1,165.9 L597.6,167.9 L598.0,167.0 L598.5,167.9 L598.9,167.3 L599.3,167.7 L599.8,167.6 L600.2,167.6 L600.6,167.3 L601.1,167.8 L601.5,166.9 L602.0,167.8 L602.4,164.5 L602.8,167.8 L603.3,163.7 L603.7,167.8 L604.2,165.0 L604.6,166.0 L605.0,167.7 L605.5,167.8 L605.9,166.6 L606.4,167.0 L606.8,167.4 L607.2,167.4 L607.7,167.7 L608.1,167.6 L608.6,167.2 L609.0,167.8 L609.4,165.5 L609.9,167.7 L610.3,167.4 L610.8,166.0 L611.2,165.9 L611.6,167.8 L612.1,167.6 L612.5,166.5 L612.9,167.2 L613.4,167.6 L613.8,165.3 L614.3,167.1 L614.7,167.2 L615.1,167.3 L615.6,167.0 L616.0,167.8 L616.5,167.1 L616.9,167.1 L617.3,167.0 L617.8,167.7 L618.2,167.7 L618.7,167.4 L619.1,167.3 L619.5,167.7 L620.0,167.3 L620.4,165.7 L620.9,167.4 L621.3,167.7 L621.7,167.2 L622.2,167.9 L622.6,167.5 L623.0,167.6 L623.5,165.8 L623.9,167.7 L624.4,167.0 L624.8,167.0 L625.2,166.3 L625.7,167.4 L626.1,166.9 L626.6,167.5 L627.0,167.5 L627.4,165.8 L627.9,167.7 L628.3,167.8 L628.8,166.9 L629.2,167.5 L629.6,167.7 L630.1,167.2 L630.5,165.7 L631.0,167.6 L631.4,167.7 L631.8,167.2 L632.3,167.7 L632.7,167.8 L633.2,167.2 L633.6,167.6 L634.0,167.1 L634.5,166.9 L634.9,167.7 L635.3,167.5 L635.8,167.3 L636.2,167.3 L636.7,165.3 L637.1,167.3 L637.5,166.2 L638.0,167.4 L638.4,167.7 L638.9,167.6 L639.3,166.7 L639.7,167.4 L640.2,165.9 L640.6,167.7 L641.1,163.6 L641.5,167.5 L641.9,167.5 L642.4,167.6 L642.8,167.7 L643.3,167.8 L643.7,167.1 L644.1,167.9 L644.6,164.7 L645.0,167.9 L645.4,166.3 L645.9,167.5 L646.3,167.1 L646.8,167.7 L647.2,165.3 L647.6,167.8 L648.1,167.0 L648.5,167.8 L649.0,166.8 L649.4,167.4 L649.8,165.5 L650.3,165.5 L650.7,162.3 L651.2,163.0 L651.6,162.7 L652.0,164.2 L652.5,165.7 L652.9,166.2 L653.4,166.5 L653.8,165.8 L654.2,163.8 L654.7,165.6 L655.1,160.8 L655.5,165.8 L656.0,164.5 L656.4,166.8 L656.9,167.1 L657.3,167.5 L657.7,167.2 L658.2,167.6 L658.6,167.7 L659.1,167.6 L659.5,166.8 L659.9,167.9 L660.4,166.1 L660.8,167.2 L661.3,167.6 L661.7,167.2 L662.1,161.9 L662.6,167.9 L663.0,167.1 L663.5,166.2 L663.9,166.9 L664.3,167.9 L664.8,167.6 L665.2,167.7 L665.7,167.6 L666.1,167.8 L666.5,167.8 L667.0,167.9 L667.4,167.6 L667.8,167.8 L668.3,167.4 L668.7,167.2 L669.2,165.6 L669.6,167.8 L670.0,166.7 L670.5,167.5 L670.9,167.8 L671.4,167.7 L671.8,163.3 L672.2,167.2 L672.7,167.7 L673.1,167.7 L673.6,162.9 L674.0,167.7 L674.4,164.9 L674.9,167.8 L675.3,167.3 L675.8,167.1 L676.2,163.8 L676.6,164.6 L677.1,159.4 L677.5,165.0 L677.9,159.2 L678.4,162.8 L678.8,155.5 L679.3,161.4 L679.7,157.8 L680.1,161.8 L680.6,160.6 L681.0,167.1 L681.5,167.6 L681.9,166.6 L682.3,166.5 L682.8,167.5 L683.2,166.9 L683.7,167.8 L684.1,167.8 L684.5,167.8 L685.0,167.3 L685.4,167.9 L685.9,167.7 L686.3,166.1 L686.7,167.5 L687.2,167.9 L687.6,165.8 L688.1,167.6 L688.5,167.4 L688.9,167.9 L689.4,167.3 L689.8,167.9 L690.2,166.9 L690.7,167.1 L691.1,167.8 L691.6,167.6 L692.0,166.6 L692.4,167.6 L692.9,167.7 L693.3,167.9 L693.8,167.4 L694.2,167.9 L694.6,166.5 L695.1,167.7 L695.5,167.5 L696.0,167.4 L696.4,167.6 L696.8,167.7 L697.3,167.3 L697.7,167.9 L698.2,166.6 L698.6,167.5 L699.0,167.6 L699.5,167.7 L699.9,167.5 L700.3,167.0 L700.8,167.0 L701.2,166.9 L701.7,166.7 L702.1,166.5 L702.5,167.5 L703.0,167.3 L703.4,167.5 L703.9,167.3 L704.3,166.8 L704.7,167.7 L705.2,167.6 L705.6,167.6 L706.1,167.0 L706.5,167.5 L706.9,167.7 L707.4,167.8 L707.8,166.8 L708.3,166.7 L708.7,164.9 L709.1,164.9 L709.6,157.9 L710.0,164.2 L710.4,159.1 L710.9,163.6 L711.3,158.5 L711.8,162.6 L712.2,156.4 L712.6,164.7 L713.1,161.7 L713.5,162.4 L714.0,153.5 L714.4,159.8 L714.8,155.5 L715.3,161.8 L715.7,160.2 L716.2,167.1 L716.6,167.3 L717.0,165.4 L717.5,163.0 L717.9,167.9 L718.4,167.8 L718.8,167.8 L719.2,167.7 L719.7,167.1 L720.1,167.0 L720.6,167.6 L721.0,165.7 L721.4,167.6 L721.9,166.9 L722.3,167.8 L722.7,167.5 L723.2,167.6 L723.6,166.5 L724.1,167.8 L724.5,167.4 L724.9,167.8 L725.4,167.6 L725.8,167.6 L726.3,166.1 L726.7,166.8 L727.1,167.2 L727.6,167.9 L728.0,167.6 L728.5,167.6 L728.9,166.1 L729.3,167.9 L729.8,166.6 L730.2,167.3 L730.7,167.7 L731.1,167.2 L731.5,167.2 L732.0,167.4 L732.4,167.1 L732.8,167.6 L733.3,166.4 L733.7,167.5 L734.2,167.5 L734.6,167.8 L735.0,165.6 L735.5,167.8 L735.9,167.5 L736.4,167.9 L736.8,167.5 L737.2,167.7 L737.7,167.7 L738.1,167.8 L738.6,165.2 L739.0,167.8 L739.4,166.9 L739.9,167.7 L740.3,167.6 L740.8,167.5 L741.2,167.3 L741.6,167.7 L742.1,167.7 L742.5,166.7 L743.0,167.7 L743.4,167.8 L743.8,167.2 L744.3,167.1 L744.7,167.6 L745.1,167.9 L745.6,167.0 L746.0,167.0 L746.5,167.4 L746.9,166.1 L747.3,167.5 L747.8,166.4 L748.2,167.8 L748.7,167.6 L749.1,166.4 L749.5,167.8 L750.0,166.5 L750.4,167.6 L750.9,167.5 L751.3,167.9 L751.7,167.1 L752.2,167.8 L752.6,167.3 L753.1,167.8 L753.5,164.6 L753.9,167.9 L754.4,167.1 L754.8,167.9 L755.2,167.5 L755.7,167.6 L756.1,167.5 L756.6,167.7 L757.0,167.4 L757.4,167.4 L757.9,167.4 L758.3,167.8 L758.8,164.6 L759.2,167.8 L759.6,167.0 L760.1,167.6 L760.5,167.4 L761.0,167.4 L761.4,166.7 L761.8,167.7 L762.3,167.4 L762.7,167.8 L763.2,166.1 L763.6,166.4 L764.0,167.5 L764.5,167.7 L764.9,166.9 L765.3,167.3 L765.8,166.2 L766.2,167.3 L766.7,166.8 L767.1,167.5 L767.5,167.7 L768.0,167.6 L768.4,166.6 L768.9,167.7 L769.3,167.5 L769.7,167.7 L770.2,167.0 L770.6,167.9 L771.1,166.4 L771.5,167.4 L771.9,163.8 L772.4,167.8 L772.8,167.5 L773.3,167.6 L773.7,164.7 L774.1,167.7 L774.6,165.2 L775.0,167.8 L775.5,167.4 L775.9,167.6 L776.3,167.5 L776.8,167.8 L777.2,166.6 L777.6,167.7 L778.1,166.5 L778.5,167.7 L779.0,167.3 L779.4,166.8 L779.8,166.8 L780.3,167.8 L780.7,167.1 L781.2,167.8 L781.6,167.6 L782.0,167.4 L782.5,167.5 L782.9,167.7 L783.4,167.6 L783.8,167.8 L784.2,167.0 L784.7,167.7 L785.1,167.2 L785.6,167.5 L786.0,167.4 L786.4,167.8 L786.9,167.4 L787.3,166.3 L787.7,167.1 L788.2,167.5 L788.6,165.9 L789.1,167.0 L789.5,162.2 L789.9,166.6 L790.4,166.7 L790.8,167.7 L791.3,166.4 L791.7,167.5 L792.1,165.4 L792.6,167.7 L793.0,166.2 L793.5,167.8 L793.9,167.0 L794.3,167.6 L794.8,167.5 L795.2,166.8 L795.7,165.3 L796.1,167.7 L796.5,166.0 L797.0,166.5 L797.4,166.5 L797.9,167.5 L798.3,166.1 L798.7,167.5 L799.2,166.5 L799.6,167.2 L800.0,167.1 L800.5,167.2 L800.9,166.6 L801.4,167.3 L801.8,165.4 L802.2,165.2 L802.7,163.6 L803.1,164.0 L803.6,162.1 L804.0,163.3 L804.4,159.8 L804.9,159.0 L805.3,155.5 L805.8,158.3 L806.2,153.4 L806.6,156.5 L807.1,154.3 L807.5,157.7 L808.0,154.6 L808.4,155.0 L808.8,145.2 L809.3,145.1 L809.7,127.7 L810.1,143.0 L810.6,137.7 L811.0,145.5 L811.5,130.3 L811.9,125.8 L812.3,116.6 L812.8,114.1 L813.2,120.9 L813.7,134.5 L814.1,121.9 L814.5,110.5 L815.0,99.0 L815.4,84.3 L815.9,71.3 L816.3,96.8 L816.7,120.3 L817.2,148.0 L817.6,165.0 L818.1,167.1 L818.5,166.6 L818.9,167.7 L819.4,164.0 L819.8,166.6 L820.2,166.5 L820.7,166.9 L821.1,164.4 L821.6,167.5 L822.0,166.2 L822.4,165.7 L822.9,166.7 L823.3,167.4 L823.8,162.6 L824.2,166.0 L824.6,165.8 L825.1,166.4 L825.5,163.7 L826.0,164.5 L826.4,163.1 L826.8,165.7 L827.3,162.6 L827.7,165.5 L828.2,163.5 L828.6,166.0 L829.0,163.5 L829.5,164.8 L829.9,163.8 L830.4,166.1 L830.8,161.1 L831.2,166.9 L831.7,164.1 L832.1,167.1 L832.5,163.6 L833.0,166.8 L833.4,166.9 L833.9,167.6 L834.3,167.0 L834.7,166.3 L835.2,166.4 L835.6,166.4 L836.1,159.6 L836.5,165.4 L836.9,164.8 L837.4,166.6 L837.8,163.8 L838.3,165.0 L838.7,160.0 L839.1,165.6 L839.6,162.1 L840.0,164.8 L840.5,162.3 L840.9,165.7 L841.3,163.2 L841.8,165.9 L842.2,164.4 L842.6,166.0 L843.1,164.5 L843.5,165.7 L844.0,165.0 L844.4,167.2 L844.8,167.0 L845.3,167.6 L845.7,164.8 L846.2,165.1 L846.6,167.1 L847.0,165.0 L847.5,152.9 L847.9,161.2 L848.4,163.5 L848.8,164.9 L849.2,166.8 L849.7,167.2 L850.1,167.5 L850.6,167.2 L851.0,166.7 L851.4,167.7 L851.9,167.2 L852.3,167.1 L852.8,163.2 L853.2,167.6 L853.6,167.0 L854.1,167.0 L854.5,167.3 L854.9,167.8 L855.4,167.3 L855.8,167.1 L856.3,167.5 L856.7,167.3 L857.1,166.7 L857.6,167.5 L858.0,167.0 L858.5,167.4 L858.9,167.5 L859.3,167.6 L859.8,166.9 L860.2,167.7 L860.7,166.6 L861.1,167.6 L861.5,167.5 L862.0,167.7 L862.4,167.1 L862.9,167.2 L863.3,165.4 L863.7,167.4 L864.2,167.4 L864.6,167.1 L865.0,164.0 L865.5,166.0 L865.9,166.0 L866.4,167.2 L866.8,164.5 L867.2,166.6 L867.7,156.0 L868.1,165.8 L868.6,161.8 L869.0,165.3 L869.4,161.6 L869.9,165.3 L870.3,159.4 L870.8,165.3 L871.2,162.4 L871.6,165.6 L872.1,163.7 L872.5,166.2 L873.0,164.3 L873.4,164.1 L873.8,159.7 L874.3,164.2 L874.7,155.6 L875.1,161.6 L875.6,158.5 L876.0,163.9 L876.5,157.9 L876.9,160.9 L877.3,150.9 L877.8,138.5 L878.2,140.8 L878.7,157.3 L879.1,164.5 L879.5,167.7 L880.0,167.1 L880.4,167.8 L880.9,166.4 L881.3,167.8 L881.7,166.9 L882.2,167.4 L882.6,167.5 L883.1,167.2 L883.5,161.9 L883.9,167.6 L884.4,166.8 L884.8,166.3 L885.3,163.0 L885.7,166.8 L886.1,163.6 L886.6,167.6 L887.0,167.2 L887.4,167.8 L887.9,167.6 L888.3,166.2 L888.8,166.7 L889.2,167.5 L889.6,167.5 L890.1,166.5 L890.5,167.6 L891.0,167.3 L891.4,166.7 L891.8,167.2 L892.3,166.2 L892.7,167.3 L893.2,166.8 L893.6,167.6 L894.0,166.0 L894.5,167.8 L894.9,167.3 L895.4,165.5 L895.8,165.5 L896.2,167.4 L896.7,167.6 L897.1,167.1 L897.5,164.3 L898.0,167.6 L898.4,167.2 L898.9,167.7 L899.3,165.0 L899.7,167.8 L900.2,167.6 L900.6,165.9 L901.1,164.3 L901.5,167.6 L901.9,167.4 L902.4,167.9 L902.8,167.7 L903.3,167.9 L903.7,166.7 L904.1,167.3 L904.6,163.6 L905.0,166.4 L905.5,167.6 L905.9,167.9 L906.3,166.8 L906.8,167.8 L907.2,165.7 L907.7,167.6 L908.1,167.3 L908.5,167.7 L909.0,167.5 L909.4,167.6 L909.8,167.6 L910.3,166.6 L910.7,166.5 L911.2,167.2 L911.6,165.6 L912.0,167.5 L912.5,166.1 L912.9,167.5 L913.4,167.3 L913.8,167.9 L914.2,167.3 L914.7,167.7 L915.1,166.8 L915.6,166.0 L916.0,167.1 L916.4,167.9 L916.9,167.7 L917.3,165.2 L917.8,166.3 L918.2,167.7 L918.6,167.7 L919.1,166.5 L919.5,167.7 L919.9,167.2 L920.4,167.4 L920.8,167.7 L921.3,166.6 L921.7,167.8 L922.1,167.3 L922.6,167.6 L923.0,167.4 L923.5,167.9 L923.9,167.4 L924.3,167.9 L924.8,167.5 L925.2,167.8 L925.7,167.6 L926.1,164.4 L926.5,167.0 L927.0,167.1 L927.4,166.0 L927.9,167.8 L928.3,167.7 L928.7,166.4 L929.2,167.3 L929.6,167.6 L930.0,166.4 L930.5,167.8 L930.9,167.2 L931.4,167.8 L931.8,167.6 L932.2,167.9 L932.7,167.6 L933.1,167.8 L933.6,166.8 L934.0,167.7 L934.4,166.7 L934.9,167.8 L935.3,167.6 L935.8,167.6 L936.2,167.5 L936.6,167.4 L937.1,167.4 L937.5,167.8 L938.0,166.7 L938.4,167.8 L938.8,166.8 L939.3,167.7 L939.7,167.7 L940.2,167.5 L940.6,167.0 L941.0,167.9 L941.5,167.3 L941.9,167.7 L942.3,166.7 L942.8,167.8 L943.2,167.1 L943.7,166.1 L944.1,167.3 L944.5,165.3 L945.0,160.2 L945.4,159.5 L945.9,166.9 L946.3,167.6 L946.7,167.2 L947.2,166.9 L947.6,165.9 L948.1,166.8 L948.5,163.3 L948.9,167.7 L949.4,166.4 L949.8,167.0 L950.3,167.6 L950.7,167.4 L951.1,166.9 L951.6,166.9 L952.0,166.8 L952.4,165.5 L952.9,166.7 L953.3,167.8 L953.8,165.1 L954.2,167.5 L954.6,165.6 L955.1,167.3 L955.5,165.4 L956.0,166.9 L956.4,164.3 L956.8,166.0 L957.3,163.6 L957.7,165.5 L958.2,163.1 L958.6,166.1 L959.0,164.3 L959.5,166.6 L959.9,165.1 L960.4,166.0 L960.8,166.2 L961.2,166.8 L961.7,166.2 L962.1,167.2 L962.6,166.5 L963.0,167.7 L963.4,163.6 L963.9,167.6 L964.3,165.0 L964.7,167.9 L965.2,165.8 L965.6,167.8 L966.1,165.5 L966.5,165.0 L966.9,163.6 L967.4,164.0 L967.8,162.6 L968.3,162.4 L968.7,161.0 L969.1,162.1 L969.6,159.0 L970.0,160.9 L970.5,156.9 L970.9,160.0 L971.3,156.9 L971.8,158.1 L972.2,155.9 L972.7,158.1 L973.1,158.5 L973.5,161.2 L974.0,160.9 L974.4,161.5 L974.8,159.7 L975.3,161.0 L975.7,158.4 L976.2,158.6 L976.6,155.6 L977.0,157.5 L977.5,155.1 L977.9,155.9 L978.4,155.1 L978.8,157.4 L979.2,156.6 L979.7,157.2 L980.1,155.1 L980.6,154.3 L981.0,145.7 L981.4,147.3 L981.9,124.5 L982.3,107.1 L982.8,85.2 L983.2,65.7 L983.6,42.7 L984.1,53.0 L984.5,69.6 L984.9,94.4 L985.4,120.2 L985.8,145.7 L986.3,163.2 L986.7,167.8 L987.1,167.5 L987.6,167.9 L988.0,167.1 L988.5,166.7 L988.9,167.5 L989.3,167.8 L989.8,167.1 L990.2,167.9 L990.7,167.3 L991.1,166.7 L991.5,167.7 L992.0,167.0 L992.4,164.7 L992.9,167.5 L993.3,167.6 L993.7,165.1 L994.2,167.5 L994.6,167.6 L995.1,167.6 L995.5,167.8 L995.9,167.6 L996.4,167.7 L996.8,167.6 L997.2,167.6 L997.7,167.0 L998.1,167.6 L998.6,160.2 L999.0,162.8 L999.4,159.5 L999.9,167.0 L1000.3,166.9 L1000.8,167.9 L1001.2,167.7 L1001.6,167.9 L1002.1,167.6 L1002.5,167.6 L1003.0,164.8 L1003.4,167.7 L1003.8,166.3 L1004.3,167.7 L1004.7,164.4 L1005.2,167.7 L1005.6,167.5 L1006.0,167.8 L1006.5,167.6 L1006.9,167.8 L1007.3,165.2 L1007.8,167.3 L1008.2,167.6 L1008.7,167.5 L1009.1,167.1 L1009.5,167.8 L1010.0,163.4 L1010.4,166.6 L1010.9,166.9 L1011.3,167.7 L1011.7,167.0 L1012.2,165.8 L1012.6,166.2 L1013.1,167.7 L1013.5,166.4 L1013.9,167.6 L1014.4,165.6 L1014.8,167.5 L1015.3,167.4 L1015.7,167.1 L1016.1,167.3 L1016.6,167.8 L1017.0,165.5 L1017.5,167.8 L1017.9,166.3 L1018.3,166.8 L1018.8,166.2 L1019.2,166.3 L1019.6,163.7 L1020.1,167.6 L1020.5,166.5 L1021.0,167.8 L1021.4,162.5 L1021.8,167.3 L1022.3,166.3 L1022.7,167.4 L1023.2,166.8 L1023.6,165.8 L1024.0,167.5 L1024.5,167.7 L1024.9,167.6 L1025.4,167.3 L1025.8,167.4 L1026.2,166.4 L1026.7,167.5 L1027.1,167.6 L1027.6,165.1 L1028.0,167.3 L1028.4,166.9 L1028.9,167.1 L1029.3,166.9 L1029.7,167.7 L1030.2,162.4 L1030.6,166.6 L1031.1,165.8 L1031.5,167.6 L1031.9,166.6 L1032.4,167.7 L1032.8,166.9 L1033.3,164.7 L1033.7,160.0 L1034.1,164.1 L1034.6,155.4 L1035.0,163.6 L1035.5,153.1 L1035.9,163.5 L1036.3,158.5 L1036.8,159.8 L1037.2,154.1 L1037.7,152.9 L1038.1,161.6 L1038.5,162.4 L1039.0,154.1 L1039.4,162.5 L1039.8,162.0 L1040.3,150.4 L1040.7,151.8 L1041.2,160.1 L1041.6,160.7 L1042.0,163.5 L1042.5,164.9 L1042.9,167.7 L1043.4,167.0 L1043.8,167.8 L1044.2,167.4 L1044.7,167.4 L1045.1,167.2 L1045.6,167.7 L1046.0,166.0 L1046.4,166.0 L1046.9,164.8 L1047.3,167.7 L1047.8,167.0 L1048.2,167.8 L1048.6,166.7 L1049.1,165.9 L1049.5,167.2 L1050.0,166.9 L1050.4,166.5 L1050.8,166.5 L1051.3,164.7 L1051.7,167.5 L1052.1,166.9 L1052.6,166.1 L1053.0,167.3 L1053.5,167.7 L1053.9,166.7 L1054.3,167.4 L1054.8,167.0 L1055.2,167.6 L1055.7,164.2 L1056.1,167.4 L1056.5,167.0 L1057.0,166.7 L1057.4,164.7 L1057.9,167.0 L1058.3,162.4 L1058.7,165.9 L1059.2,166.6 L1059.6,166.6 L1060.1,162.0 L1060.5,165.9 L1060.9,165.5 L1061.4,166.2 L1061.8,166.8 L1062.2,166.9 L1062.7,165.3" fill="none" stroke="#058dc7" stroke-width="2" stroke-linejoin="miter" stroke-miterlimit="4" clip-path="url(#cp)"/>
<circle cx="448.2" cy="167.8" r="6.2" fill="#fff" stroke="#058dc7" stroke-width="1.15"/>
<circle cx="448.2" cy="167.8" r="3.9" fill="#058dc7"/>
<text x="136.3" y="183" text-anchor="middle">2011</text><text x="296.5" y="183" text-anchor="middle">2012</text><text x="456.8" y="183" text-anchor="middle">2013</text><text x="617.0" y="183" text-anchor="middle">2014</text><text x="777.3" y="183" text-anchor="middle">2015</text><text x="937.5" y="183" text-anchor="middle">2016</text>
<rect x="14" y="189" width="1068" height="1" fill="#ccc"/>
</svg>
<div class="tab"><svg width="48" height="8" viewBox="524 189 48 8" style="position:absolute;left:0;top:0"><path d="M544.8 191 L552.3 191 L548.55 195.4 Z" fill="#7a7a7a"/></svg></div>
<div class="m" style="left:13px;top:236px"><div class="ml" style="letter-spacing:-0.04px">Sessions</div><div class="mv" style="letter-spacing:0.00px">48,617</div><svg class="sp" width="172" height="20" viewBox="-2 0 172 20"><path d="M0.0,16.9 L0.0,16.9 L0.7,16.9 L1.4,16.9 L2.1,16.6 L2.8,13.2 L3.5,16.9 L4.2,16.0 L4.9,15.4 L5.6,14.8 L6.3,16.4 L7.0,16.9 L7.7,16.9 L8.4,16.8 L9.1,16.6 L9.8,16.1 L10.5,15.9 L11.2,15.1 L11.9,15.5 L12.7,16.9 L13.4,16.9 L14.1,16.4 L14.8,16.7 L15.5,16.9 L16.2,16.5 L16.9,15.4 L17.6,16.9 L18.3,16.9 L19.0,16.9 L19.7,16.9 L20.4,16.9 L21.1,16.9 L21.8,16.9 L22.5,16.9 L23.2,16.9 L23.9,16.9 L24.6,16.9 L25.3,16.9 L26.0,16.9 L26.7,16.9 L27.4,16.9 L28.1,14.0 L28.8,16.7 L29.5,16.9 L30.2,16.9 L30.9,16.9 L31.6,16.9 L32.3,16.9 L33.0,16.9 L33.7,16.9 L34.4,16.9 L35.1,16.9 L35.8,16.9 L36.6,16.9 L37.3,16.9 L38.0,16.9 L38.7,16.9 L39.4,16.9 L40.1,16.9 L40.8,16.9 L41.5,16.9 L42.2,16.9 L42.9,16.9 L43.6,16.9 L44.3,16.9 L45.0,16.9 L45.7,16.9 L46.4,16.9 L47.1,16.9 L47.8,16.9 L48.5,16.9 L49.2,16.9 L49.9,16.9 L50.6,16.9 L51.3,16.9 L52.0,16.9 L52.7,16.9 L53.4,14.1 L54.1,15.9 L54.8,16.9 L55.5,16.9 L56.2,16.8 L56.9,16.9 L57.6,16.6 L58.3,16.9 L59.0,16.9 L59.7,16.9 L60.5,16.9 L61.2,16.9 L61.9,16.8 L62.6,16.9 L63.3,16.9 L64.0,16.9 L64.7,16.9 L65.4,16.9 L66.1,16.9 L66.8,16.9 L67.5,16.9 L68.2,16.9 L68.9,16.9 L69.6,16.9 L70.3,16.9 L71.0,16.9 L71.7,16.9 L72.4,16.9 L73.1,16.9 L73.8,16.9 L74.5,16.9 L75.2,16.9 L75.9,16.9 L76.6,16.9 L77.3,16.9 L78.0,16.9 L78.7,16.9 L79.4,15.7 L80.1,15.7 L80.8,16.9 L81.5,16.9 L82.2,16.9 L82.9,16.9 L83.6,16.9 L84.4,16.9 L85.1,16.9 L85.8,16.9 L86.5,16.8 L87.2,16.9 L87.9,16.9 L88.6,16.5 L89.3,16.9 L90.0,16.2 L90.7,16.9 L91.4,16.9 L92.1,16.9 L92.8,16.9 L93.5,16.9 L94.2,16.9 L94.9,16.8 L95.6,16.9 L96.3,16.9 L97.0,16.9 L97.7,16.9 L98.4,16.9 L99.1,16.9 L99.8,16.9 L100.5,16.9 L101.2,16.9 L101.9,16.8 L102.6,16.0 L103.3,16.9 L104.0,16.9 L104.7,16.9 L105.4,16.9 L106.1,16.6 L106.8,15.5 L107.5,16.9 L108.3,16.9 L109.0,16.9 L109.7,16.9 L110.4,16.9 L111.1,16.9 L111.8,15.7 L112.5,14.8 L113.2,16.9 L113.9,16.9 L114.6,16.9 L115.3,16.9 L116.0,16.9 L116.7,16.9 L117.4,16.9 L118.1,16.9 L118.8,16.9 L119.5,16.9 L120.2,16.9 L120.9,16.9 L121.6,16.9 L122.3,16.9 L123.0,16.9 L123.7,16.9 L124.4,16.9 L125.1,16.9 L125.8,16.9 L126.5,12.2 L127.2,1.3 L127.9,1.8 L128.6,15.3 L129.3,16.9 L130.0,16.9 L130.7,16.7 L131.4,16.6 L132.2,15.5 L132.9,16.5 L133.6,16.3 L134.3,16.9 L135.0,16.9 L135.7,16.9 L136.4,16.9 L137.1,15.9 L137.8,15.9 L138.5,12.5 L139.2,16.9 L139.9,16.6 L140.6,16.9 L141.3,16.8 L142.0,16.9 L142.7,16.9 L143.4,16.9 L144.1,16.9 L144.8,16.9 L145.5,16.9 L146.2,16.9 L146.9,16.9 L147.6,16.9 L148.3,16.9 L149.0,16.9 L149.7,16.3 L150.4,16.9 L151.1,16.7 L151.8,16.7 L152.5,16.9 L153.2,15.1 L153.9,12.0 L154.6,0.7 L155.3,1.2 L156.1,15.3 L156.8,16.9 L157.5,16.9 L158.2,16.1 L158.9,16.9 L159.6,16.9 L160.3,16.9 L161.0,16.9 L161.7,16.7 L162.4,16.9 L163.1,16.8 L163.8,14.7 L164.5,14.2 L165.2,16.7 L165.9,16.9 L166.6,16.9 L167.3,16.6 L168.0,16.6 L168.0,16.9 Z" fill="#058dc7" fill-opacity="0.1"/><path d="M0.0,16.9 L0.7,16.9 L1.4,16.9 L2.1,16.6 L2.8,13.2 L3.5,16.9 L4.2,16.0 L4.9,15.4 L5.6,14.8 L6.3,16.4 L7.0,16.9 L7.7,16.9 L8.4,16.8 L9.1,16.6 L9.8,16.1 L10.5,15.9 L11.2,15.1 L11.9,15.5 L12.7,16.9 L13.4,16.9 L14.1,16.4 L14.8,16.7 L15.5,16.9 L16.2,16.5 L16.9,15.4 L17.6,16.9 L18.3,16.9 L19.0,16.9 L19.7,16.9 L20.4,16.9 L21.1,16.9 L21.8,16.9 L22.5,16.9 L23.2,16.9 L23.9,16.9 L24.6,16.9 L25.3,16.9 L26.0,16.9 L26.7,16.9 L27.4,16.9 L28.1,14.0 L28.8,16.7 L29.5,16.9 L30.2,16.9 L30.9,16.9 L31.6,16.9 L32.3,16.9 L33.0,16.9 L33.7,16.9 L34.4,16.9 L35.1,16.9 L35.8,16.9 L36.6,16.9 L37.3,16.9 L38.0,16.9 L38.7,16.9 L39.4,16.9 L40.1,16.9 L40.8,16.9 L41.5,16.9 L42.2,16.9 L42.9,16.9 L43.6,16.9 L44.3,16.9 L45.0,16.9 L45.7,16.9 L46.4,16.9 L47.1,16.9 L47.8,16.9 L48.5,16.9 L49.2,16.9 L49.9,16.9 L50.6,16.9 L51.3,16.9 L52.0,16.9 L52.7,16.9 L53.4,14.1 L54.1,15.9 L54.8,16.9 L55.5,16.9 L56.2,16.8 L56.9,16.9 L57.6,16.6 L58.3,16.9 L59.0,16.9 L59.7,16.9 L60.5,16.9 L61.2,16.9 L61.9,16.8 L62.6,16.9 L63.3,16.9 L64.0,16.9 L64.7,16.9 L65.4,16.9 L66.1,16.9 L66.8,16.9 L67.5,16.9 L68.2,16.9 L68.9,16.9 L69.6,16.9 L70.3,16.9 L71.0,16.9 L71.7,16.9 L72.4,16.9 L73.1,16.9 L73.8,16.9 L74.5,16.9 L75.2,16.9 L75.9,16.9 L76.6,16.9 L77.3,16.9 L78.0,16.9 L78.7,16.9 L79.4,15.7 L80.1,15.7 L80.8,16.9 L81.5,16.9 L82.2,16.9 L82.9,16.9 L83.6,16.9 L84.4,16.9 L85.1,16.9 L85.8,16.9 L86.5,16.8 L87.2,16.9 L87.9,16.9 L88.6,16.5 L89.3,16.9 L90.0,16.2 L90.7,16.9 L91.4,16.9 L92.1,16.9 L92.8,16.9 L93.5,16.9 L94.2,16.9 L94.9,16.8 L95.6,16.9 L96.3,16.9 L97.0,16.9 L97.7,16.9 L98.4,16.9 L99.1,16.9 L99.8,16.9 L100.5,16.9 L101.2,16.9 L101.9,16.8 L102.6,16.0 L103.3,16.9 L104.0,16.9 L104.7,16.9 L105.4,16.9 L106.1,16.6 L106.8,15.5 L107.5,16.9 L108.3,16.9 L109.0,16.9 L109.7,16.9 L110.4,16.9 L111.1,16.9 L111.8,15.7 L112.5,14.8 L113.2,16.9 L113.9,16.9 L114.6,16.9 L115.3,16.9 L116.0,16.9 L116.7,16.9 L117.4,16.9 L118.1,16.9 L118.8,16.9 L119.5,16.9 L120.2,16.9 L120.9,16.9 L121.6,16.9 L122.3,16.9 L123.0,16.9 L123.7,16.9 L124.4,16.9 L125.1,16.9 L125.8,16.9 L126.5,12.2 L127.2,1.3 L127.9,1.8 L128.6,15.3 L129.3,16.9 L130.0,16.9 L130.7,16.7 L131.4,16.6 L132.2,15.5 L132.9,16.5 L133.6,16.3 L134.3,16.9 L135.0,16.9 L135.7,16.9 L136.4,16.9 L137.1,15.9 L137.8,15.9 L138.5,12.5 L139.2,16.9 L139.9,16.6 L140.6,16.9 L141.3,16.8 L142.0,16.9 L142.7,16.9 L143.4,16.9 L144.1,16.9 L144.8,16.9 L145.5,16.9 L146.2,16.9 L146.9,16.9 L147.6,16.9 L148.3,16.9 L149.0,16.9 L149.7,16.3 L150.4,16.9 L151.1,16.7 L151.8,16.7 L152.5,16.9 L153.2,15.1 L153.9,12.0 L154.6,0.7 L155.3,1.2 L156.1,15.3 L156.8,16.9 L157.5,16.9 L158.2,16.1 L158.9,16.9 L159.6,16.9 L160.3,16.9 L161.0,16.9 L161.7,16.7 L162.4,16.9 L163.1,16.8 L163.8,14.7 L164.5,14.2 L165.2,16.7 L165.9,16.9 L166.6,16.9 L167.3,16.6 L168.0,16.6" fill="none" stroke="#058dc7" stroke-width="1.25" stroke-linejoin="miter" stroke-miterlimit="3"/></svg></div><div class="m" style="left:204px;top:236px"><div class="ml" style="letter-spacing:-0.20px">Users</div><div class="mv" style="letter-spacing:0.00px">30,900</div><svg class="sp" width="172" height="20" viewBox="-2 0 172 20"><path d="M0.0,16.9 L0.0,16.9 L0.7,16.9 L1.4,16.9 L2.1,15.3 L2.8,12.5 L3.5,16.9 L4.2,15.3 L4.9,14.9 L5.6,14.9 L6.3,13.8 L7.0,16.9 L7.7,16.9 L8.4,16.7 L9.1,16.9 L9.8,13.5 L10.5,14.6 L11.2,13.9 L11.9,16.2 L12.7,16.9 L13.4,16.8 L14.1,16.4 L14.8,16.5 L15.5,16.9 L16.2,16.6 L16.9,15.9 L17.6,16.9 L18.3,16.9 L19.0,16.9 L19.7,16.9 L20.4,16.9 L21.1,16.9 L21.8,16.9 L22.5,16.9 L23.2,16.9 L23.9,16.9 L24.6,16.9 L25.3,16.9 L26.0,16.9 L26.7,16.9 L27.4,16.9 L28.1,13.1 L28.8,16.1 L29.5,16.9 L30.2,16.9 L30.9,16.9 L31.6,16.9 L32.3,16.9 L33.0,16.9 L33.7,16.9 L34.4,16.9 L35.1,16.9 L35.8,16.9 L36.6,16.9 L37.3,16.9 L38.0,16.9 L38.7,16.9 L39.4,16.9 L40.1,16.9 L40.8,16.9 L41.5,16.9 L42.2,16.9 L42.9,16.9 L43.6,16.9 L44.3,16.9 L45.0,16.9 L45.7,16.9 L46.4,16.9 L47.1,16.9 L47.8,16.9 L48.5,16.9 L49.2,16.9 L49.9,16.9 L50.6,16.9 L51.3,16.9 L52.0,16.9 L52.7,16.9 L53.4,13.9 L54.1,15.0 L54.8,16.9 L55.5,16.9 L56.2,16.9 L56.9,16.9 L57.6,16.8 L58.3,16.9 L59.0,16.9 L59.7,16.9 L60.5,16.9 L61.2,16.9 L61.9,16.6 L62.6,16.7 L63.3,16.9 L64.0,16.9 L64.7,16.9 L65.4,16.9 L66.1,16.9 L66.8,16.9 L67.5,16.9 L68.2,16.9 L68.9,16.9 L69.6,16.9 L70.3,16.9 L71.0,16.9 L71.7,16.9 L72.4,16.9 L73.1,16.9 L73.8,16.9 L74.5,16.9 L75.2,16.9 L75.9,16.9 L76.6,16.9 L77.3,16.9 L78.0,16.9 L78.7,16.9 L79.4,14.9 L80.1,14.5 L80.8,16.9 L81.5,16.9 L82.2,16.8 L82.9,16.9 L83.6,16.9 L84.4,16.8 L85.1,16.9 L85.8,16.9 L86.5,16.9 L87.2,16.9 L87.9,16.9 L88.6,16.3 L89.3,16.9 L90.0,16.7 L90.7,16.9 L91.4,16.9 L92.1,16.9 L92.8,16.9 L93.5,16.9 L94.2,16.9 L94.9,16.9 L95.6,16.9 L96.3,16.9 L97.0,16.9 L97.7,16.9 L98.4,16.9 L99.1,16.9 L99.8,16.9 L100.5,16.9 L101.2,16.9 L101.9,16.6 L102.6,15.5 L103.3,16.9 L104.0,16.9 L104.7,16.9 L105.4,16.9 L106.1,16.1 L106.8,14.9 L107.5,16.9 L108.3,16.9 L109.0,16.9 L109.7,16.9 L110.4,16.9 L111.1,16.9 L111.8,13.2 L112.5,13.3 L113.2,16.9 L113.9,16.9 L114.6,16.9 L115.3,16.9 L116.0,16.9 L116.7,16.9 L117.4,16.9 L118.1,16.9 L118.8,16.9 L119.5,16.9 L120.2,16.9 L120.9,16.9 L121.6,16.9 L122.3,16.9 L123.0,16.9 L123.7,16.9 L124.4,16.9 L125.1,16.9 L125.8,16.9 L126.5,12.0 L127.2,0.7 L127.9,1.2 L128.6,15.3 L129.3,16.9 L130.0,16.3 L130.7,15.5 L131.4,16.1 L132.2,16.2 L132.9,15.6 L133.6,15.8 L134.3,16.9 L135.0,16.9 L135.7,16.9 L136.4,16.9 L137.1,15.7 L137.8,15.5 L138.5,12.5 L139.2,16.9 L139.9,16.9 L140.6,16.9 L141.3,16.9 L142.0,16.9 L142.7,16.9 L143.4,16.9 L144.1,16.9 L144.8,16.9 L145.5,16.9 L146.2,16.9 L146.9,16.9 L147.6,16.9 L148.3,16.9 L149.0,16.9 L149.7,16.1 L150.4,16.9 L151.1,16.9 L151.8,16.7 L152.5,16.8 L153.2,14.2 L153.9,12.2 L154.6,1.3 L155.3,1.8 L156.1,15.3 L156.8,16.9 L157.5,16.9 L158.2,16.3 L158.9,16.9 L159.6,16.9 L160.3,16.9 L161.0,16.9 L161.7,16.9 L162.4,16.9 L163.1,16.7 L163.8,13.7 L164.5,12.5 L165.2,15.2 L165.9,16.9 L166.6,16.9 L167.3,16.8 L168.0,16.9 L168.0,16.9 Z" fill="#058dc7" fill-opacity="0.1"/><path d="M0.0,16.9 L0.7,16.9 L1.4,16.9 L2.1,15.3 L2.8,12.5 L3.5,16.9 L4.2,15.3 L4.9,14.9 L5.6,14.9 L6.3,13.8 L7.0,16.9 L7.7,16.9 L8.4,16.7 L9.1,16.9 L9.8,13.5 L10.5,14.6 L11.2,13.9 L11.9,16.2 L12.7,16.9 L13.4,16.8 L14.1,16.4 L14.8,16.5 L15.5,16.9 L16.2,16.6 L16.9,15.9 L17.6,16.9 L18.3,16.9 L19.0,16.9 L19.7,16.9 L20.4,16.9 L21.1,16.9 L21.8,16.9 L22.5,16.9 L23.2,16.9 L23.9,16.9 L24.6,16.9 L25.3,16.9 L26.0,16.9 L26.7,16.9 L27.4,16.9 L28.1,13.1 L28.8,16.1 L29.5,16.9 L30.2,16.9 L30.9,16.9 L31.6,16.9 L32.3,16.9 L33.0,16.9 L33.7,16.9 L34.4,16.9 L35.1,16.9 L35.8,16.9 L36.6,16.9 L37.3,16.9 L38.0,16.9 L38.7,16.9 L39.4,16.9 L40.1,16.9 L40.8,16.9 L41.5,16.9 L42.2,16.9 L42.9,16.9 L43.6,16.9 L44.3,16.9 L45.0,16.9 L45.7,16.9 L46.4,16.9 L47.1,16.9 L47.8,16.9 L48.5,16.9 L49.2,16.9 L49.9,16.9 L50.6,16.9 L51.3,16.9 L52.0,16.9 L52.7,16.9 L53.4,13.9 L54.1,15.0 L54.8,16.9 L55.5,16.9 L56.2,16.9 L56.9,16.9 L57.6,16.8 L58.3,16.9 L59.0,16.9 L59.7,16.9 L60.5,16.9 L61.2,16.9 L61.9,16.6 L62.6,16.7 L63.3,16.9 L64.0,16.9 L64.7,16.9 L65.4,16.9 L66.1,16.9 L66.8,16.9 L67.5,16.9 L68.2,16.9 L68.9,16.9 L69.6,16.9 L70.3,16.9 L71.0,16.9 L71.7,16.9 L72.4,16.9 L73.1,16.9 L73.8,16.9 L74.5,16.9 L75.2,16.9 L75.9,16.9 L76.6,16.9 L77.3,16.9 L78.0,16.9 L78.7,16.9 L79.4,14.9 L80.1,14.5 L80.8,16.9 L81.5,16.9 L82.2,16.8 L82.9,16.9 L83.6,16.9 L84.4,16.8 L85.1,16.9 L85.8,16.9 L86.5,16.9 L87.2,16.9 L87.9,16.9 L88.6,16.3 L89.3,16.9 L90.0,16.7 L90.7,16.9 L91.4,16.9 L92.1,16.9 L92.8,16.9 L93.5,16.9 L94.2,16.9 L94.9,16.9 L95.6,16.9 L96.3,16.9 L97.0,16.9 L97.7,16.9 L98.4,16.9 L99.1,16.9 L99.8,16.9 L100.5,16.9 L101.2,16.9 L101.9,16.6 L102.6,15.5 L103.3,16.9 L104.0,16.9 L104.7,16.9 L105.4,16.9 L106.1,16.1 L106.8,14.9 L107.5,16.9 L108.3,16.9 L109.0,16.9 L109.7,16.9 L110.4,16.9 L111.1,16.9 L111.8,13.2 L112.5,13.3 L113.2,16.9 L113.9,16.9 L114.6,16.9 L115.3,16.9 L116.0,16.9 L116.7,16.9 L117.4,16.9 L118.1,16.9 L118.8,16.9 L119.5,16.9 L120.2,16.9 L120.9,16.9 L121.6,16.9 L122.3,16.9 L123.0,16.9 L123.7,16.9 L124.4,16.9 L125.1,16.9 L125.8,16.9 L126.5,12.0 L127.2,0.7 L127.9,1.2 L128.6,15.3 L129.3,16.9 L130.0,16.3 L130.7,15.5 L131.4,16.1 L132.2,16.2 L132.9,15.6 L133.6,15.8 L134.3,16.9 L135.0,16.9 L135.7,16.9 L136.4,16.9 L137.1,15.7 L137.8,15.5 L138.5,12.5 L139.2,16.9 L139.9,16.9 L140.6,16.9 L141.3,16.9 L142.0,16.9 L142.7,16.9 L143.4,16.9 L144.1,16.9 L144.8,16.9 L145.5,16.9 L146.2,16.9 L146.9,16.9 L147.6,16.9 L148.3,16.9 L149.0,16.9 L149.7,16.1 L150.4,16.9 L151.1,16.9 L151.8,16.7 L152.5,16.8 L153.2,14.2 L153.9,12.2 L154.6,1.3 L155.3,1.8 L156.1,15.3 L156.8,16.9 L157.5,16.9 L158.2,16.3 L158.9,16.9 L159.6,16.9 L160.3,16.9 L161.0,16.9 L161.7,16.9 L162.4,16.9 L163.1,16.7 L163.8,13.7 L164.5,12.5 L165.2,15.2 L165.9,16.9 L166.6,16.9 L167.3,16.8 L168.0,16.9" fill="none" stroke="#058dc7" stroke-width="1.25" stroke-linejoin="miter" stroke-miterlimit="3"/></svg></div><div class="m" style="left:395px;top:236px"><div class="ml" style="letter-spacing:-0.10px">Pageviews</div><div class="mv" style="letter-spacing:0.00px">259,185</div><svg class="sp" width="172" height="20" viewBox="-2 0 172 20"><path d="M0.0,16.9 L0.0,16.9 L0.7,16.9 L1.4,16.9 L2.1,14.8 L2.8,12.7 L3.5,16.9 L4.2,15.6 L4.9,15.5 L5.6,14.7 L6.3,16.5 L7.0,16.9 L7.7,16.9 L8.4,16.9 L9.1,16.8 L9.8,15.3 L10.5,15.5 L11.2,15.7 L11.9,15.6 L12.7,16.9 L13.4,16.9 L14.1,16.9 L14.8,16.5 L15.5,16.8 L16.2,16.9 L16.9,16.0 L17.6,16.9 L18.3,16.9 L19.0,16.9 L19.7,16.9 L20.4,16.9 L21.1,16.9 L21.8,16.7 L22.5,16.9 L23.2,16.9 L23.9,16.9 L24.6,16.9 L25.3,16.9 L26.0,16.9 L26.7,16.9 L27.4,16.9 L28.1,14.7 L28.8,16.2 L29.5,16.9 L30.2,16.9 L30.9,16.9 L31.6,16.9 L32.3,16.9 L33.0,16.9 L33.7,16.9 L34.4,16.9 L35.1,16.9 L35.8,16.9 L36.6,16.9 L37.3,16.9 L38.0,16.9 L38.7,16.9 L39.4,16.9 L40.1,16.9 L40.8,16.9 L41.5,16.9 L42.2,16.9 L42.9,16.9 L43.6,16.9 L44.3,16.9 L45.0,16.9 L45.7,16.9 L46.4,16.9 L47.1,16.9 L47.8,16.9 L48.5,16.9 L49.2,16.9 L49.9,16.9 L50.6,16.9 L51.3,16.9 L52.0,16.9 L52.7,16.9 L53.4,15.5 L54.1,15.6 L54.8,16.9 L55.5,16.9 L56.2,16.8 L56.9,16.9 L57.6,16.9 L58.3,16.9 L59.0,16.9 L59.7,16.9 L60.5,16.9 L61.2,16.9 L61.9,16.6 L62.6,16.9 L63.3,16.9 L64.0,16.9 L64.7,16.9 L65.4,16.9 L66.1,16.9 L66.8,16.9 L67.5,16.9 L68.2,16.9 L68.9,16.9 L69.6,16.9 L70.3,16.9 L71.0,16.9 L71.7,16.9 L72.4,16.9 L73.1,16.9 L73.8,16.9 L74.5,16.9 L75.2,16.9 L75.9,16.9 L76.6,16.9 L77.3,16.9 L78.0,16.9 L78.7,16.9 L79.4,15.9 L80.1,15.6 L80.8,16.9 L81.5,16.9 L82.2,16.9 L82.9,16.9 L83.6,16.9 L84.4,16.9 L85.1,16.9 L85.8,16.9 L86.5,16.9 L87.2,16.9 L87.9,16.9 L88.6,16.4 L89.3,16.9 L90.0,16.5 L90.7,16.9 L91.4,16.9 L92.1,16.9 L92.8,16.9 L93.5,16.9 L94.2,16.9 L94.9,16.9 L95.6,16.9 L96.3,16.9 L97.0,16.9 L97.7,16.9 L98.4,16.9 L99.1,16.9 L99.8,16.9 L100.5,16.9 L101.2,16.9 L101.9,16.8 L102.6,16.2 L103.3,16.9 L104.0,16.9 L104.7,16.9 L105.4,16.9 L106.1,16.6 L106.8,15.4 L107.5,16.9 L108.3,16.9 L109.0,16.9 L109.7,16.9 L110.4,16.9 L111.1,16.9 L111.8,15.2 L112.5,14.7 L113.2,16.9 L113.9,16.9 L114.6,16.9 L115.3,16.9 L116.0,16.9 L116.7,16.9 L117.4,16.9 L118.1,16.9 L118.8,16.9 L119.5,16.9 L120.2,16.9 L120.9,16.9 L121.6,16.9 L122.3,16.9 L123.0,16.9 L123.7,16.9 L124.4,16.9 L125.1,16.9 L125.8,16.9 L126.5,12.2 L127.2,1.3 L127.9,1.8 L128.6,15.3 L129.3,16.9 L130.0,16.6 L130.7,16.1 L131.4,16.7 L132.2,16.2 L132.9,16.4 L133.6,16.1 L134.3,16.9 L135.0,16.9 L135.7,16.9 L136.4,16.9 L137.1,16.2 L137.8,16.1 L138.5,12.5 L139.2,16.9 L139.9,16.6 L140.6,16.9 L141.3,16.9 L142.0,16.9 L142.7,16.9 L143.4,16.9 L144.1,16.8 L144.8,16.9 L145.5,16.9 L146.2,16.9 L146.9,16.9 L147.6,16.9 L148.3,16.9 L149.0,16.9 L149.7,16.4 L150.4,16.9 L151.1,16.7 L151.8,16.7 L152.5,16.8 L153.2,16.3 L153.9,12.1 L154.6,0.8 L155.3,1.3 L156.1,15.3 L156.8,16.9 L157.5,16.9 L158.2,16.7 L158.9,16.9 L159.6,16.9 L160.3,16.9 L161.0,16.9 L161.7,16.8 L162.4,16.9 L163.1,16.9 L163.8,16.1 L164.5,14.4 L165.2,16.9 L165.9,16.9 L166.6,16.9 L167.3,16.9 L168.0,16.5 L168.0,16.9 Z" fill="#058dc7" fill-opacity="0.1"/><path d="M0.0,16.9 L0.7,16.9 L1.4,16.9 L2.1,14.8 L2.8,12.7 L3.5,16.9 L4.2,15.6 L4.9,15.5 L5.6,14.7 L6.3,16.5 L7.0,16.9 L7.7,16.9 L8.4,16.9 L9.1,16.8 L9.8,15.3 L10.5,15.5 L11.2,15.7 L11.9,15.6 L12.7,16.9 L13.4,16.9 L14.1,16.9 L14.8,16.5 L15.5,16.8 L16.2,16.9 L16.9,16.0 L17.6,16.9 L18.3,16.9 L19.0,16.9 L19.7,16.9 L20.4,16.9 L21.1,16.9 L21.8,16.7 L22.5,16.9 L23.2,16.9 L23.9,16.9 L24.6,16.9 L25.3,16.9 L26.0,16.9 L26.7,16.9 L27.4,16.9 L28.1,14.7 L28.8,16.2 L29.5,16.9 L30.2,16.9 L30.9,16.9 L31.6,16.9 L32.3,16.9 L33.0,16.9 L33.7,16.9 L34.4,16.9 L35.1,16.9 L35.8,16.9 L36.6,16.9 L37.3,16.9 L38.0,16.9 L38.7,16.9 L39.4,16.9 L40.1,16.9 L40.8,16.9 L41.5,16.9 L42.2,16.9 L42.9,16.9 L43.6,16.9 L44.3,16.9 L45.0,16.9 L45.7,16.9 L46.4,16.9 L47.1,16.9 L47.8,16.9 L48.5,16.9 L49.2,16.9 L49.9,16.9 L50.6,16.9 L51.3,16.9 L52.0,16.9 L52.7,16.9 L53.4,15.5 L54.1,15.6 L54.8,16.9 L55.5,16.9 L56.2,16.8 L56.9,16.9 L57.6,16.9 L58.3,16.9 L59.0,16.9 L59.7,16.9 L60.5,16.9 L61.2,16.9 L61.9,16.6 L62.6,16.9 L63.3,16.9 L64.0,16.9 L64.7,16.9 L65.4,16.9 L66.1,16.9 L66.8,16.9 L67.5,16.9 L68.2,16.9 L68.9,16.9 L69.6,16.9 L70.3,16.9 L71.0,16.9 L71.7,16.9 L72.4,16.9 L73.1,16.9 L73.8,16.9 L74.5,16.9 L75.2,16.9 L75.9,16.9 L76.6,16.9 L77.3,16.9 L78.0,16.9 L78.7,16.9 L79.4,15.9 L80.1,15.6 L80.8,16.9 L81.5,16.9 L82.2,16.9 L82.9,16.9 L83.6,16.9 L84.4,16.9 L85.1,16.9 L85.8,16.9 L86.5,16.9 L87.2,16.9 L87.9,16.9 L88.6,16.4 L89.3,16.9 L90.0,16.5 L90.7,16.9 L91.4,16.9 L92.1,16.9 L92.8,16.9 L93.5,16.9 L94.2,16.9 L94.9,16.9 L95.6,16.9 L96.3,16.9 L97.0,16.9 L97.7,16.9 L98.4,16.9 L99.1,16.9 L99.8,16.9 L100.5,16.9 L101.2,16.9 L101.9,16.8 L102.6,16.2 L103.3,16.9 L104.0,16.9 L104.7,16.9 L105.4,16.9 L106.1,16.6 L106.8,15.4 L107.5,16.9 L108.3,16.9 L109.0,16.9 L109.7,16.9 L110.4,16.9 L111.1,16.9 L111.8,15.2 L112.5,14.7 L113.2,16.9 L113.9,16.9 L114.6,16.9 L115.3,16.9 L116.0,16.9 L116.7,16.9 L117.4,16.9 L118.1,16.9 L118.8,16.9 L119.5,16.9 L120.2,16.9 L120.9,16.9 L121.6,16.9 L122.3,16.9 L123.0,16.9 L123.7,16.9 L124.4,16.9 L125.1,16.9 L125.8,16.9 L126.5,12.2 L127.2,1.3 L127.9,1.8 L128.6,15.3 L129.3,16.9 L130.0,16.6 L130.7,16.1 L131.4,16.7 L132.2,16.2 L132.9,16.4 L133.6,16.1 L134.3,16.9 L135.0,16.9 L135.7,16.9 L136.4,16.9 L137.1,16.2 L137.8,16.1 L138.5,12.5 L139.2,16.9 L139.9,16.6 L140.6,16.9 L141.3,16.9 L142.0,16.9 L142.7,16.9 L143.4,16.9 L144.1,16.8 L144.8,16.9 L145.5,16.9 L146.2,16.9 L146.9,16.9 L147.6,16.9 L148.3,16.9 L149.0,16.9 L149.7,16.4 L150.4,16.9 L151.1,16.7 L151.8,16.7 L152.5,16.8 L153.2,16.3 L153.9,12.1 L154.6,0.8 L155.3,1.3 L156.1,15.3 L156.8,16.9 L157.5,16.9 L158.2,16.7 L158.9,16.9 L159.6,16.9 L160.3,16.9 L161.0,16.9 L161.7,16.8 L162.4,16.9 L163.1,16.9 L163.8,16.1 L164.5,14.4 L165.2,16.9 L165.9,16.9 L166.6,16.9 L167.3,16.9 L168.0,16.5" fill="none" stroke="#058dc7" stroke-width="1.25" stroke-linejoin="miter" stroke-miterlimit="3"/></svg></div><div class="m" style="left:13px;top:338px"><div class="ml" style="letter-spacing:0.00px">Pages / Session</div><div class="mv" style="letter-spacing:0.00px"><span style="margin-left:1px">5.33</span></div><svg class="sp" width="172" height="20" viewBox="-2 0 172 20"><path d="M0.0,17.4 L0.0,17.1 L0.5,15.0 L1.0,15.3 L1.5,17.1 L2.0,15.7 L2.5,15.7 L3.0,15.5 L3.5,15.9 L4.0,15.4 L4.5,15.8 L5.0,16.5 L5.5,14.6 L6.0,14.6 L6.5,13.8 L7.0,15.3 L7.5,15.7 L8.0,15.8 L8.5,16.7 L9.0,14.4 L9.5,16.3 L10.0,16.4 L10.5,15.5 L11.0,13.9 L11.5,15.1 L12.0,16.2 L12.5,15.9 L13.0,14.7 L13.5,15.4 L14.0,15.9 L14.5,15.5 L15.0,14.6 L15.5,13.5 L16.0,16.4 L16.5,15.8 L17.1,15.9 L17.6,17.4 L18.1,16.0 L18.6,16.1 L19.1,14.2 L19.6,15.3 L20.1,16.7 L20.6,14.6 L21.1,15.5 L21.6,16.7 L22.1,15.7 L22.6,15.7 L23.1,16.0 L23.6,15.1 L24.1,17.2 L24.6,15.4 L25.1,14.2 L25.6,14.0 L26.1,13.7 L26.6,13.7 L27.1,13.4 L27.6,15.7 L28.1,14.0 L28.6,16.4 L29.1,15.3 L29.6,16.4 L30.1,13.8 L30.6,13.5 L31.1,14.9 L31.6,13.1 L32.1,15.3 L32.6,14.6 L33.1,14.6 L33.6,15.7 L34.1,14.3 L34.6,12.9 L35.1,15.6 L35.6,13.9 L36.1,14.8 L36.6,13.1 L37.1,14.3 L37.6,14.1 L38.1,14.1 L38.6,14.5 L39.1,16.0 L39.6,13.4 L40.1,15.9 L40.6,14.5 L41.1,14.1 L41.6,15.5 L42.1,14.6 L42.6,13.6 L43.1,14.7 L43.6,15.5 L44.1,17.3 L44.6,15.6 L45.1,15.2 L45.6,15.2 L46.1,15.6 L46.6,14.4 L47.1,15.2 L47.6,14.8 L48.1,14.1 L48.6,15.5 L49.1,15.0 L49.6,12.8 L50.1,13.9 L50.7,15.9 L51.2,14.8 L51.7,14.2 L52.2,13.6 L52.7,14.6 L53.2,15.2 L53.7,15.4 L54.2,14.2 L54.7,14.5 L55.2,15.2 L55.7,15.0 L56.2,15.2 L56.7,14.1 L57.2,15.4 L57.7,7.6 L58.2,7.9 L58.7,14.4 L59.2,15.6 L59.7,13.6 L60.2,15.4 L60.7,14.4 L61.2,15.5 L61.7,16.4 L62.2,14.6 L62.7,14.6 L63.2,14.9 L63.7,14.6 L64.2,15.5 L64.7,15.5 L65.2,15.0 L65.7,13.2 L66.2,14.2 L66.7,15.4 L67.2,14.4 L67.7,15.4 L68.2,15.3 L68.7,14.2 L69.2,15.4 L69.7,16.5 L70.2,15.8 L70.7,14.9 L71.2,14.8 L71.7,13.9 L72.2,15.6 L72.7,14.3 L73.2,14.6 L73.7,15.1 L74.2,14.3 L74.7,14.6 L75.2,15.8 L75.7,14.5 L76.2,16.5 L76.7,15.4 L77.2,15.5 L77.7,15.1 L78.2,16.1 L78.7,15.5 L79.2,15.6 L79.7,14.6 L80.2,16.2 L80.7,15.4 L81.2,15.7 L81.7,16.7 L82.2,13.1 L82.7,15.6 L83.2,16.9 L83.7,14.3 L84.3,16.5 L84.8,15.2 L85.3,14.8 L85.8,16.2 L86.3,16.0 L86.8,16.1 L87.3,15.7 L87.8,17.1 L88.3,16.7 L88.8,15.7 L89.3,14.7 L89.8,15.0 L90.3,14.1 L90.8,15.0 L91.3,16.1 L91.8,15.7 L92.3,13.8 L92.8,16.5 L93.3,16.6 L93.8,15.4 L94.3,15.1 L94.8,16.2 L95.3,16.2 L95.8,17.1 L96.3,15.8 L96.8,15.5 L97.3,15.3 L97.8,16.4 L98.3,13.9 L98.8,14.6 L99.3,15.8 L99.8,16.2 L100.3,16.0 L100.8,15.6 L101.3,15.7 L101.8,15.3 L102.3,15.0 L102.8,14.5 L103.3,14.7 L103.8,15.8 L104.3,15.4 L104.8,16.1 L105.3,16.3 L105.8,14.0 L106.3,16.2 L106.8,14.0 L107.3,16.1 L107.8,15.5 L108.3,13.5 L108.8,15.7 L109.3,15.4 L109.8,16.0 L110.3,16.2 L110.8,15.9 L111.3,16.3 L111.8,14.3 L112.3,15.9 L112.8,14.2 L113.3,17.4 L113.8,15.7 L114.3,15.3 L114.8,16.0 L115.3,14.8 L115.8,15.2 L116.3,16.0 L116.8,15.4 L117.3,13.2 L117.9,15.5 L118.4,15.5 L118.9,16.1 L119.4,15.6 L119.9,16.9 L120.4,15.9 L120.9,13.5 L121.4,14.8 L121.9,1.0 L122.4,1.8 L122.9,14.0 L123.4,15.2 L123.9,13.9 L124.4,14.8 L124.9,15.6 L125.4,14.2 L125.9,17.4 L126.4,16.2 L126.9,15.5 L127.4,16.5 L127.9,15.8 L128.4,16.3 L128.9,16.3 L129.4,13.2 L129.9,15.1 L130.4,15.7 L130.9,14.5 L131.4,15.9 L131.9,14.9 L132.4,15.3 L132.9,14.2 L133.4,16.9 L133.9,15.0 L134.4,15.5 L134.9,16.7 L135.4,14.7 L135.9,16.4 L136.4,14.2 L136.9,15.1 L137.4,15.0 L137.9,15.5 L138.4,14.8 L138.9,17.3 L139.4,15.5 L139.9,16.1 L140.4,15.3 L140.9,15.6 L141.4,15.0 L141.9,16.3 L142.4,13.9 L142.9,13.4 L143.4,15.7 L143.9,15.5 L144.4,15.3 L144.9,14.4 L145.4,13.8 L145.9,16.6 L146.4,16.0 L146.9,16.4 L147.4,16.5 L147.9,16.9 L148.4,15.1 L148.9,16.5 L149.4,14.1 L149.9,14.6 L150.4,16.4 L150.9,16.4 L151.5,16.0 L152.0,14.2 L152.5,16.2 L153.0,16.7 L153.5,15.4 L154.0,15.1 L154.5,16.0 L155.0,13.9 L155.5,15.2 L156.0,15.0 L156.5,16.1 L157.0,15.4 L157.5,15.5 L158.0,17.4 L158.5,15.1 L159.0,16.9 L159.5,15.3 L160.0,16.6 L160.5,13.5 L161.0,15.0 L161.5,14.5 L162.0,14.5 L162.5,16.5 L163.0,14.1 L163.5,15.6 L164.0,14.5 L164.5,15.2 L165.0,14.5 L165.5,14.4 L166.0,16.6 L166.5,15.0 L167.0,13.5 L167.5,15.7 L168.0,17.0 L168.0,17.4 Z" fill="#058dc7" fill-opacity="0.1"/><path d="M0.0,17.1 L0.5,15.0 L1.0,15.3 L1.5,17.1 L2.0,15.7 L2.5,15.7 L3.0,15.5 L3.5,15.9 L4.0,15.4 L4.5,15.8 L5.0,16.5 L5.5,14.6 L6.0,14.6 L6.5,13.8 L7.0,15.3 L7.5,15.7 L8.0,15.8 L8.5,16.7 L9.0,14.4 L9.5,16.3 L10.0,16.4 L10.5,15.5 L11.0,13.9 L11.5,15.1 L12.0,16.2 L12.5,15.9 L13.0,14.7 L13.5,15.4 L14.0,15.9 L14.5,15.5 L15.0,14.6 L15.5,13.5 L16.0,16.4 L16.5,15.8 L17.1,15.9 L17.6,17.4 L18.1,16.0 L18.6,16.1 L19.1,14.2 L19.6,15.3 L20.1,16.7 L20.6,14.6 L21.1,15.5 L21.6,16.7 L22.1,15.7 L22.6,15.7 L23.1,16.0 L23.6,15.1 L24.1,17.2 L24.6,15.4 L25.1,14.2 L25.6,14.0 L26.1,13.7 L26.6,13.7 L27.1,13.4 L27.6,15.7 L28.1,14.0 L28.6,16.4 L29.1,15.3 L29.6,16.4 L30.1,13.8 L30.6,13.5 L31.1,14.9 L31.6,13.1 L32.1,15.3 L32.6,14.6 L33.1,14.6 L33.6,15.7 L34.1,14.3 L34.6,12.9 L35.1,15.6 L35.6,13.9 L36.1,14.8 L36.6,13.1 L37.1,14.3 L37.6,14.1 L38.1,14.1 L38.6,14.5 L39.1,16.0 L39.6,13.4 L40.1,15.9 L40.6,14.5 L41.1,14.1 L41.6,15.5 L42.1,14.6 L42.6,13.6 L43.1,14.7 L43.6,15.5 L44.1,17.3 L44.6,15.6 L45.1,15.2 L45.6,15.2 L46.1,15.6 L46.6,14.4 L47.1,15.2 L47.6,14.8 L48.1,14.1 L48.6,15.5 L49.1,15.0 L49.6,12.8 L50.1,13.9 L50.7,15.9 L51.2,14.8 L51.7,14.2 L52.2,13.6 L52.7,14.6 L53.2,15.2 L53.7,15.4 L54.2,14.2 L54.7,14.5 L55.2,15.2 L55.7,15.0 L56.2,15.2 L56.7,14.1 L57.2,15.4 L57.7,7.6 L58.2,7.9 L58.7,14.4 L59.2,15.6 L59.7,13.6 L60.2,15.4 L60.7,14.4 L61.2,15.5 L61.7,16.4 L62.2,14.6 L62.7,14.6 L63.2,14.9 L63.7,14.6 L64.2,15.5 L64.7,15.5 L65.2,15.0 L65.7,13.2 L66.2,14.2 L66.7,15.4 L67.2,14.4 L67.7,15.4 L68.2,15.3 L68.7,14.2 L69.2,15.4 L69.7,16.5 L70.2,15.8 L70.7,14.9 L71.2,14.8 L71.7,13.9 L72.2,15.6 L72.7,14.3 L73.2,14.6 L73.7,15.1 L74.2,14.3 L74.7,14.6 L75.2,15.8 L75.7,14.5 L76.2,16.5 L76.7,15.4 L77.2,15.5 L77.7,15.1 L78.2,16.1 L78.7,15.5 L79.2,15.6 L79.7,14.6 L80.2,16.2 L80.7,15.4 L81.2,15.7 L81.7,16.7 L82.2,13.1 L82.7,15.6 L83.2,16.9 L83.7,14.3 L84.3,16.5 L84.8,15.2 L85.3,14.8 L85.8,16.2 L86.3,16.0 L86.8,16.1 L87.3,15.7 L87.8,17.1 L88.3,16.7 L88.8,15.7 L89.3,14.7 L89.8,15.0 L90.3,14.1 L90.8,15.0 L91.3,16.1 L91.8,15.7 L92.3,13.8 L92.8,16.5 L93.3,16.6 L93.8,15.4 L94.3,15.1 L94.8,16.2 L95.3,16.2 L95.8,17.1 L96.3,15.8 L96.8,15.5 L97.3,15.3 L97.8,16.4 L98.3,13.9 L98.8,14.6 L99.3,15.8 L99.8,16.2 L100.3,16.0 L100.8,15.6 L101.3,15.7 L101.8,15.3 L102.3,15.0 L102.8,14.5 L103.3,14.7 L103.8,15.8 L104.3,15.4 L104.8,16.1 L105.3,16.3 L105.8,14.0 L106.3,16.2 L106.8,14.0 L107.3,16.1 L107.8,15.5 L108.3,13.5 L108.8,15.7 L109.3,15.4 L109.8,16.0 L110.3,16.2 L110.8,15.9 L111.3,16.3 L111.8,14.3 L112.3,15.9 L112.8,14.2 L113.3,17.4 L113.8,15.7 L114.3,15.3 L114.8,16.0 L115.3,14.8 L115.8,15.2 L116.3,16.0 L116.8,15.4 L117.3,13.2 L117.9,15.5 L118.4,15.5 L118.9,16.1 L119.4,15.6 L119.9,16.9 L120.4,15.9 L120.9,13.5 L121.4,14.8 L121.9,1.0 L122.4,1.8 L122.9,14.0 L123.4,15.2 L123.9,13.9 L124.4,14.8 L124.9,15.6 L125.4,14.2 L125.9,17.4 L126.4,16.2 L126.9,15.5 L127.4,16.5 L127.9,15.8 L128.4,16.3 L128.9,16.3 L129.4,13.2 L129.9,15.1 L130.4,15.7 L130.9,14.5 L131.4,15.9 L131.9,14.9 L132.4,15.3 L132.9,14.2 L133.4,16.9 L133.9,15.0 L134.4,15.5 L134.9,16.7 L135.4,14.7 L135.9,16.4 L136.4,14.2 L136.9,15.1 L137.4,15.0 L137.9,15.5 L138.4,14.8 L138.9,17.3 L139.4,15.5 L139.9,16.1 L140.4,15.3 L140.9,15.6 L141.4,15.0 L141.9,16.3 L142.4,13.9 L142.9,13.4 L143.4,15.7 L143.9,15.5 L144.4,15.3 L144.9,14.4 L145.4,13.8 L145.9,16.6 L146.4,16.0 L146.9,16.4 L147.4,16.5 L147.9,16.9 L148.4,15.1 L148.9,16.5 L149.4,14.1 L149.9,14.6 L150.4,16.4 L150.9,16.4 L151.5,16.0 L152.0,14.2 L152.5,16.2 L153.0,16.7 L153.5,15.4 L154.0,15.1 L154.5,16.0 L155.0,13.9 L155.5,15.2 L156.0,15.0 L156.5,16.1 L157.0,15.4 L157.5,15.5 L158.0,17.4 L158.5,15.1 L159.0,16.9 L159.5,15.3 L160.0,16.6 L160.5,13.5 L161.0,15.0 L161.5,14.5 L162.0,14.5 L162.5,16.5 L163.0,14.1 L163.5,15.6 L164.0,14.5 L164.5,15.2 L165.0,14.5 L165.5,14.4 L166.0,16.6 L166.5,15.0 L167.0,13.5 L167.5,15.7 L168.0,17.0" fill="none" stroke="#058dc7" stroke-width="1.4" stroke-linejoin="miter" stroke-miterlimit="3"/></svg></div><div class="m" style="left:204px;top:338px"><div class="ml" style="letter-spacing:-0.12px">Avg. Session Duration</div><div class="mv" style="letter-spacing:0.12px">00:07:04</div><svg class="sp" width="172" height="20" viewBox="-2 0 172 20"><path d="M0.0,17.4 L0.0,16.9 L0.5,16.3 L1.0,13.2 L1.5,16.1 L2.0,16.4 L2.5,15.3 L3.0,13.6 L3.5,16.2 L4.0,2.6 L4.5,4.1 L5.0,13.2 L5.5,14.0 L6.0,14.7 L6.5,16.4 L7.0,15.7 L7.5,16.4 L8.0,16.2 L8.5,15.3 L9.0,14.4 L9.5,16.7 L10.0,15.9 L10.5,15.0 L11.0,16.6 L11.5,13.7 L12.0,14.7 L12.5,16.4 L13.0,15.2 L13.5,15.7 L14.0,15.3 L14.5,15.5 L15.0,13.7 L15.5,16.3 L16.0,16.7 L16.5,12.6 L17.1,15.7 L17.6,14.3 L18.1,14.9 L18.6,15.9 L19.1,16.5 L19.6,16.0 L20.1,15.7 L20.6,16.3 L21.1,15.5 L21.6,16.7 L22.1,12.5 L22.6,13.0 L23.1,14.0 L23.6,15.7 L24.1,16.6 L24.6,16.0 L25.1,16.0 L25.6,15.1 L26.1,16.7 L26.6,16.7 L27.1,16.0 L27.6,16.6 L28.1,15.4 L28.6,16.2 L29.1,16.3 L29.6,16.5 L30.1,14.5 L30.6,16.4 L31.1,16.7 L31.6,16.1 L32.1,16.5 L32.6,15.9 L33.1,15.6 L33.6,16.2 L34.1,16.6 L34.6,14.9 L35.1,15.7 L35.6,16.5 L36.1,12.3 L36.6,9.7 L37.1,10.5 L37.6,16.7 L38.1,15.9 L38.6,16.4 L39.1,14.2 L39.6,16.4 L40.1,12.5 L40.6,13.0 L41.1,12.3 L41.6,16.2 L42.1,15.8 L42.6,14.9 L43.1,16.2 L43.6,15.4 L44.1,16.0 L44.6,16.6 L45.1,16.7 L45.6,16.6 L46.1,11.5 L46.6,12.1 L47.1,15.9 L47.6,16.3 L48.1,16.3 L48.6,12.8 L49.1,13.3 L49.6,16.5 L50.1,16.1 L50.7,16.2 L51.2,16.2 L51.7,16.6 L52.2,12.5 L52.7,13.0 L53.2,16.7 L53.7,16.4 L54.2,16.7 L54.7,16.5 L55.2,14.9 L55.7,16.4 L56.2,15.2 L56.7,12.8 L57.2,12.4 L57.7,16.0 L58.2,15.5 L58.7,16.3 L59.2,16.2 L59.7,16.6 L60.2,16.4 L60.7,15.2 L61.2,16.4 L61.7,15.6 L62.2,9.7 L62.7,10.5 L63.2,16.1 L63.7,15.8 L64.2,12.7 L64.7,15.0 L65.2,15.8 L65.7,16.4 L66.2,15.7 L66.7,15.7 L67.2,15.7 L67.7,13.4 L68.2,16.5 L68.7,16.0 L69.2,16.1 L69.7,15.7 L70.2,16.0 L70.7,15.7 L71.2,16.5 L71.7,15.9 L72.2,16.7 L72.7,16.3 L73.2,13.8 L73.7,16.2 L74.2,15.5 L74.7,15.3 L75.2,16.6 L75.7,16.6 L76.2,16.3 L76.7,14.1 L77.2,15.4 L77.7,16.2 L78.2,1.0 L78.7,2.6 L79.2,16.6 L79.7,16.6 L80.2,16.4 L80.7,15.9 L81.2,15.4 L81.7,14.4 L82.2,16.6 L82.7,15.8 L83.2,16.4 L83.7,15.4 L84.3,16.7 L84.8,11.9 L85.3,16.6 L85.8,13.4 L86.3,14.8 L86.8,15.8 L87.3,11.5 L87.8,12.1 L88.3,14.8 L88.8,16.5 L89.3,16.5 L89.8,12.5 L90.3,13.0 L90.8,15.8 L91.3,16.2 L91.8,14.4 L92.3,14.2 L92.8,16.4 L93.3,16.7 L93.8,16.6 L94.3,13.3 L94.8,13.7 L95.3,16.7 L95.8,16.7 L96.3,16.3 L96.8,16.7 L97.3,16.6 L97.8,16.2 L98.3,16.4 L98.8,16.6 L99.3,16.6 L99.8,16.7 L100.3,16.7 L100.8,13.3 L101.3,13.7 L101.8,16.5 L102.3,16.6 L102.8,16.6 L103.3,16.7 L103.8,16.4 L104.3,16.2 L104.8,16.3 L105.3,16.2 L105.8,16.8 L106.3,16.3 L106.8,16.8 L107.3,16.0 L107.8,16.5 L108.3,16.4 L108.8,16.7 L109.3,16.0 L109.8,16.5 L110.3,16.6 L110.8,16.3 L111.3,16.5 L111.8,12.5 L112.3,13.0 L112.8,16.7 L113.3,16.4 L113.8,16.6 L114.3,16.8 L114.8,16.0 L115.3,16.5 L115.8,16.8 L116.3,15.8 L116.8,16.8 L117.3,16.7 L117.9,16.8 L118.4,15.6 L118.9,16.5 L119.4,16.4 L119.9,16.7 L120.4,15.7 L120.9,16.7 L121.4,16.6 L121.9,16.5 L122.4,16.8 L122.9,16.8 L123.4,16.3 L123.9,16.6 L124.4,16.6 L124.9,16.7 L125.4,16.5 L125.9,16.2 L126.4,16.6 L126.9,16.4 L127.4,13.6 L127.9,14.0 L128.4,16.7 L128.9,16.3 L129.4,15.9 L129.9,16.5 L130.4,16.3 L130.9,16.3 L131.4,16.4 L131.9,16.7 L132.4,16.4 L132.9,16.6 L133.4,16.6 L133.9,16.8 L134.4,16.8 L134.9,16.8 L135.4,16.4 L135.9,16.3 L136.4,16.1 L136.9,13.6 L137.4,14.0 L137.9,16.5 L138.4,16.0 L138.9,16.4 L139.4,16.7 L139.9,16.0 L140.4,16.4 L140.9,16.6 L141.4,16.8 L141.9,16.8 L142.4,16.7 L142.9,16.8 L143.4,16.7 L143.9,16.7 L144.4,16.7 L144.9,16.6 L145.4,16.6 L145.9,16.3 L146.4,16.7 L146.9,16.7 L147.4,16.4 L147.9,16.5 L148.4,16.1 L148.9,16.4 L149.4,16.8 L149.9,12.5 L150.4,13.0 L150.9,16.7 L151.5,16.7 L152.0,16.6 L152.5,15.7 L153.0,16.8 L153.5,16.1 L154.0,12.5 L154.5,13.0 L155.0,16.5 L155.5,16.7 L156.0,16.0 L156.5,15.9 L157.0,16.4 L157.5,16.6 L158.0,16.8 L158.5,16.6 L159.0,16.1 L159.5,16.0 L160.0,16.7 L160.5,16.4 L161.0,16.3 L161.5,16.2 L162.0,12.0 L162.5,12.5 L163.0,16.3 L163.5,16.1 L164.0,16.3 L164.5,16.4 L165.0,16.0 L165.5,16.4 L166.0,16.5 L166.5,16.8 L167.0,16.4 L167.5,16.5 L168.0,16.6 L168.0,17.4 Z" fill="#058dc7" fill-opacity="0.1"/><path d="M0.0,16.9 L0.5,16.3 L1.0,13.2 L1.5,16.1 L2.0,16.4 L2.5,15.3 L3.0,13.6 L3.5,16.2 L4.0,2.6 L4.5,4.1 L5.0,13.2 L5.5,14.0 L6.0,14.7 L6.5,16.4 L7.0,15.7 L7.5,16.4 L8.0,16.2 L8.5,15.3 L9.0,14.4 L9.5,16.7 L10.0,15.9 L10.5,15.0 L11.0,16.6 L11.5,13.7 L12.0,14.7 L12.5,16.4 L13.0,15.2 L13.5,15.7 L14.0,15.3 L14.5,15.5 L15.0,13.7 L15.5,16.3 L16.0,16.7 L16.5,12.6 L17.1,15.7 L17.6,14.3 L18.1,14.9 L18.6,15.9 L19.1,16.5 L19.6,16.0 L20.1,15.7 L20.6,16.3 L21.1,15.5 L21.6,16.7 L22.1,12.5 L22.6,13.0 L23.1,14.0 L23.6,15.7 L24.1,16.6 L24.6,16.0 L25.1,16.0 L25.6,15.1 L26.1,16.7 L26.6,16.7 L27.1,16.0 L27.6,16.6 L28.1,15.4 L28.6,16.2 L29.1,16.3 L29.6,16.5 L30.1,14.5 L30.6,16.4 L31.1,16.7 L31.6,16.1 L32.1,16.5 L32.6,15.9 L33.1,15.6 L33.6,16.2 L34.1,16.6 L34.6,14.9 L35.1,15.7 L35.6,16.5 L36.1,12.3 L36.6,9.7 L37.1,10.5 L37.6,16.7 L38.1,15.9 L38.6,16.4 L39.1,14.2 L39.6,16.4 L40.1,12.5 L40.6,13.0 L41.1,12.3 L41.6,16.2 L42.1,15.8 L42.6,14.9 L43.1,16.2 L43.6,15.4 L44.1,16.0 L44.6,16.6 L45.1,16.7 L45.6,16.6 L46.1,11.5 L46.6,12.1 L47.1,15.9 L47.6,16.3 L48.1,16.3 L48.6,12.8 L49.1,13.3 L49.6,16.5 L50.1,16.1 L50.7,16.2 L51.2,16.2 L51.7,16.6 L52.2,12.5 L52.7,13.0 L53.2,16.7 L53.7,16.4 L54.2,16.7 L54.7,16.5 L55.2,14.9 L55.7,16.4 L56.2,15.2 L56.7,12.8 L57.2,12.4 L57.7,16.0 L58.2,15.5 L58.7,16.3 L59.2,16.2 L59.7,16.6 L60.2,16.4 L60.7,15.2 L61.2,16.4 L61.7,15.6 L62.2,9.7 L62.7,10.5 L63.2,16.1 L63.7,15.8 L64.2,12.7 L64.7,15.0 L65.2,15.8 L65.7,16.4 L66.2,15.7 L66.7,15.7 L67.2,15.7 L67.7,13.4 L68.2,16.5 L68.7,16.0 L69.2,16.1 L69.7,15.7 L70.2,16.0 L70.7,15.7 L71.2,16.5 L71.7,15.9 L72.2,16.7 L72.7,16.3 L73.2,13.8 L73.7,16.2 L74.2,15.5 L74.7,15.3 L75.2,16.6 L75.7,16.6 L76.2,16.3 L76.7,14.1 L77.2,15.4 L77.7,16.2 L78.2,1.0 L78.7,2.6 L79.2,16.6 L79.7,16.6 L80.2,16.4 L80.7,15.9 L81.2,15.4 L81.7,14.4 L82.2,16.6 L82.7,15.8 L83.2,16.4 L83.7,15.4 L84.3,16.7 L84.8,11.9 L85.3,16.6 L85.8,13.4 L86.3,14.8 L86.8,15.8 L87.3,11.5 L87.8,12.1 L88.3,14.8 L88.8,16.5 L89.3,16.5 L89.8,12.5 L90.3,13.0 L90.8,15.8 L91.3,16.2 L91.8,14.4 L92.3,14.2 L92.8,16.4 L93.3,16.7 L93.8,16.6 L94.3,13.3 L94.8,13.7 L95.3,16.7 L95.8,16.7 L96.3,16.3 L96.8,16.7 L97.3,16.6 L97.8,16.2 L98.3,16.4 L98.8,16.6 L99.3,16.6 L99.8,16.7 L100.3,16.7 L100.8,13.3 L101.3,13.7 L101.8,16.5 L102.3,16.6 L102.8,16.6 L103.3,16.7 L103.8,16.4 L104.3,16.2 L104.8,16.3 L105.3,16.2 L105.8,16.8 L106.3,16.3 L106.8,16.8 L107.3,16.0 L107.8,16.5 L108.3,16.4 L108.8,16.7 L109.3,16.0 L109.8,16.5 L110.3,16.6 L110.8,16.3 L111.3,16.5 L111.8,12.5 L112.3,13.0 L112.8,16.7 L113.3,16.4 L113.8,16.6 L114.3,16.8 L114.8,16.0 L115.3,16.5 L115.8,16.8 L116.3,15.8 L116.8,16.8 L117.3,16.7 L117.9,16.8 L118.4,15.6 L118.9,16.5 L119.4,16.4 L119.9,16.7 L120.4,15.7 L120.9,16.7 L121.4,16.6 L121.9,16.5 L122.4,16.8 L122.9,16.8 L123.4,16.3 L123.9,16.6 L124.4,16.6 L124.9,16.7 L125.4,16.5 L125.9,16.2 L126.4,16.6 L126.9,16.4 L127.4,13.6 L127.9,14.0 L128.4,16.7 L128.9,16.3 L129.4,15.9 L129.9,16.5 L130.4,16.3 L130.9,16.3 L131.4,16.4 L131.9,16.7 L132.4,16.4 L132.9,16.6 L133.4,16.6 L133.9,16.8 L134.4,16.8 L134.9,16.8 L135.4,16.4 L135.9,16.3 L136.4,16.1 L136.9,13.6 L137.4,14.0 L137.9,16.5 L138.4,16.0 L138.9,16.4 L139.4,16.7 L139.9,16.0 L140.4,16.4 L140.9,16.6 L141.4,16.8 L141.9,16.8 L142.4,16.7 L142.9,16.8 L143.4,16.7 L143.9,16.7 L144.4,16.7 L144.9,16.6 L145.4,16.6 L145.9,16.3 L146.4,16.7 L146.9,16.7 L147.4,16.4 L147.9,16.5 L148.4,16.1 L148.9,16.4 L149.4,16.8 L149.9,12.5 L150.4,13.0 L150.9,16.7 L151.5,16.7 L152.0,16.6 L152.5,15.7 L153.0,16.8 L153.5,16.1 L154.0,12.5 L154.5,13.0 L155.0,16.5 L155.5,16.7 L156.0,16.0 L156.5,15.9 L157.0,16.4 L157.5,16.6 L158.0,16.8 L158.5,16.6 L159.0,16.1 L159.5,16.0 L160.0,16.7 L160.5,16.4 L161.0,16.3 L161.5,16.2 L162.0,12.0 L162.5,12.5 L163.0,16.3 L163.5,16.1 L164.0,16.3 L164.5,16.4 L165.0,16.0 L165.5,16.4 L166.0,16.5 L166.5,16.8 L167.0,16.4 L167.5,16.5 L168.0,16.6" fill="none" stroke="#058dc7" stroke-width="1.4" stroke-linejoin="miter" stroke-miterlimit="3"/></svg></div><div class="m" style="left:395px;top:338px"><div class="ml" style="letter-spacing:-0.24px">Bounce Rate</div><div class="mv" style="letter-spacing:-0.30px">10.36%</div><svg class="sp" width="172" height="20" viewBox="-2 0 172 20"><path d="M0.0,17.4 L0.0,17.1 L0.5,16.4 L1.0,15.2 L1.5,16.4 L2.0,5.9 L2.5,6.7 L3.0,7.6 L3.5,16.2 L4.0,16.5 L4.5,16.4 L5.0,15.9 L5.5,16.5 L6.0,16.4 L6.5,16.2 L7.0,15.6 L7.5,16.2 L8.0,15.9 L8.5,15.5 L9.0,15.7 L9.5,16.2 L10.0,16.0 L10.5,16.1 L11.0,16.1 L11.5,16.3 L12.0,16.0 L12.5,16.2 L13.0,16.5 L13.5,16.4 L14.0,16.6 L14.5,16.5 L15.0,16.1 L15.5,16.2 L16.0,16.6 L16.5,16.5 L17.1,16.5 L17.6,16.4 L18.1,16.5 L18.6,15.8 L19.1,16.5 L19.6,15.7 L20.1,16.4 L20.6,16.3 L21.1,16.5 L21.6,16.4 L22.1,16.4 L22.6,15.8 L23.1,15.9 L23.6,16.3 L24.1,16.4 L24.6,16.5 L25.1,15.8 L25.6,16.5 L26.1,15.8 L26.6,16.2 L27.1,12.5 L27.6,9.2 L28.1,9.9 L28.6,12.1 L29.1,16.2 L29.6,16.5 L30.1,16.3 L30.6,16.0 L31.1,16.4 L31.6,16.1 L32.1,16.3 L32.6,16.6 L33.1,11.6 L33.6,10.0 L34.1,10.6 L34.6,13.1 L35.1,15.5 L35.6,15.7 L36.1,10.0 L36.6,10.6 L37.1,15.9 L37.6,15.8 L38.1,16.1 L38.6,12.8 L39.1,16.2 L39.6,16.4 L40.1,15.4 L40.6,16.4 L41.1,12.9 L41.6,16.1 L42.1,16.0 L42.6,8.8 L43.1,16.2 L43.6,10.8 L44.1,11.4 L44.6,16.2 L45.1,11.9 L45.6,16.3 L46.1,10.8 L46.6,16.2 L47.1,12.1 L47.6,16.1 L48.1,10.4 L48.6,16.3 L49.1,11.0 L49.6,16.3 L50.1,11.4 L50.7,16.5 L51.2,15.6 L51.7,9.1 L52.2,10.2 L52.7,16.0 L53.2,16.1 L53.7,15.1 L54.2,15.9 L54.7,16.2 L55.2,9.3 L55.7,12.1 L56.2,16.1 L56.7,16.4 L57.2,15.2 L57.7,15.9 L58.2,11.6 L58.7,15.3 L59.2,15.7 L59.7,16.6 L60.2,15.7 L60.7,16.2 L61.2,16.4 L61.7,15.8 L62.2,15.6 L62.7,16.2 L63.2,10.3 L63.7,9.5 L64.2,15.6 L64.7,16.4 L65.2,16.3 L65.7,16.1 L66.2,16.3 L66.7,16.1 L67.2,16.0 L67.7,15.6 L68.2,15.4 L68.7,16.2 L69.2,16.2 L69.7,15.7 L70.2,15.6 L70.7,15.7 L71.2,15.9 L71.7,16.2 L72.2,15.7 L72.7,16.1 L73.2,12.3 L73.7,16.5 L74.2,12.7 L74.7,15.8 L75.2,15.8 L75.7,9.6 L76.2,11.4 L76.7,16.4 L77.2,16.4 L77.7,16.3 L78.2,15.3 L78.7,16.6 L79.2,15.8 L79.7,16.6 L80.2,16.2 L80.7,16.3 L81.2,16.5 L81.7,11.9 L82.2,16.3 L82.7,16.3 L83.2,13.3 L83.7,16.3 L84.3,16.4 L84.8,15.9 L85.3,10.2 L85.8,16.2 L86.3,15.8 L86.8,16.3 L87.3,16.3 L87.8,16.5 L88.3,16.5 L88.8,15.2 L89.3,15.9 L89.8,16.1 L90.3,16.0 L90.8,16.2 L91.3,16.5 L91.8,10.8 L92.3,11.4 L92.8,16.5 L93.3,16.3 L93.8,16.3 L94.3,15.8 L94.8,16.2 L95.3,11.8 L95.8,15.8 L96.3,15.9 L96.8,16.3 L97.3,15.8 L97.8,15.8 L98.3,16.3 L98.8,9.8 L99.3,15.7 L99.8,15.9 L100.3,16.0 L100.8,9.2 L101.3,9.9 L101.8,15.2 L102.3,16.1 L102.8,16.0 L103.3,15.6 L103.8,15.9 L104.3,15.9 L104.8,14.8 L105.3,15.3 L105.8,15.1 L106.3,15.8 L106.8,15.6 L107.3,15.7 L107.8,15.7 L108.3,15.3 L108.8,15.0 L109.3,11.4 L109.8,15.0 L110.3,15.9 L110.8,15.5 L111.3,15.5 L111.8,15.0 L112.3,15.4 L112.8,15.6 L113.3,15.4 L113.8,15.7 L114.3,15.1 L114.8,15.4 L115.3,15.3 L115.8,15.1 L116.3,15.3 L116.8,14.9 L117.3,15.4 L117.9,15.5 L118.4,14.5 L118.9,15.0 L119.4,14.8 L119.9,14.9 L120.4,15.1 L120.9,15.4 L121.4,15.6 L121.9,14.8 L122.4,15.0 L122.9,14.9 L123.4,14.5 L123.9,15.1 L124.4,14.8 L124.9,15.2 L125.4,15.3 L125.9,14.2 L126.4,14.4 L126.9,7.1 L127.4,14.4 L127.9,14.5 L128.4,15.2 L128.9,14.3 L129.4,14.3 L129.9,15.1 L130.4,14.2 L130.9,14.5 L131.4,14.7 L131.9,14.8 L132.4,14.4 L132.9,14.8 L133.4,14.2 L133.9,14.0 L134.4,14.4 L134.9,14.9 L135.4,14.3 L135.9,14.0 L136.4,13.5 L136.9,13.8 L137.4,8.1 L137.9,13.5 L138.4,13.7 L138.9,13.5 L139.4,13.7 L139.9,7.4 L140.4,12.5 L140.9,11.4 L141.4,12.1 L141.9,11.3 L142.4,11.0 L142.9,2.5 L143.4,5.1 L143.9,6.1 L144.4,6.4 L144.9,7.0 L145.4,8.7 L145.9,8.0 L146.4,1.0 L146.9,2.3 L147.4,8.3 L147.9,10.1 L148.4,9.8 L148.9,5.9 L149.4,6.8 L149.9,8.3 L150.4,10.3 L150.9,8.5 L151.5,10.8 L152.0,14.9 L152.5,14.9 L153.0,14.9 L153.5,14.9 L154.0,14.9 L154.5,14.9 L155.0,14.9 L155.5,12.7 L156.0,13.9 L156.5,9.2 L157.0,9.9 L157.5,12.6 L158.0,13.1 L158.5,13.0 L159.0,4.8 L159.5,5.8 L160.0,13.5 L160.5,13.9 L161.0,13.7 L161.5,6.2 L162.0,7.1 L162.5,12.4 L163.0,13.3 L163.5,13.0 L164.0,12.4 L164.5,13.6 L165.0,12.8 L165.5,13.2 L166.0,9.8 L166.5,12.4 L167.0,12.2 L167.5,12.6 L168.0,12.5 L168.0,17.4 Z" fill="#058dc7" fill-opacity="0.1"/><path d="M0.0,17.1 L0.5,16.4 L1.0,15.2 L1.5,16.4 L2.0,5.9 L2.5,6.7 L3.0,7.6 L3.5,16.2 L4.0,16.5 L4.5,16.4 L5.0,15.9 L5.5,16.5 L6.0,16.4 L6.5,16.2 L7.0,15.6 L7.5,16.2 L8.0,15.9 L8.5,15.5 L9.0,15.7 L9.5,16.2 L10.0,16.0 L10.5,16.1 L11.0,16.1 L11.5,16.3 L12.0,16.0 L12.5,16.2 L13.0,16.5 L13.5,16.4 L14.0,16.6 L14.5,16.5 L15.0,16.1 L15.5,16.2 L16.0,16.6 L16.5,16.5 L17.1,16.5 L17.6,16.4 L18.1,16.5 L18.6,15.8 L19.1,16.5 L19.6,15.7 L20.1,16.4 L20.6,16.3 L21.1,16.5 L21.6,16.4 L22.1,16.4 L22.6,15.8 L23.1,15.9 L23.6,16.3 L24.1,16.4 L24.6,16.5 L25.1,15.8 L25.6,16.5 L26.1,15.8 L26.6,16.2 L27.1,12.5 L27.6,9.2 L28.1,9.9 L28.6,12.1 L29.1,16.2 L29.6,16.5 L30.1,16.3 L30.6,16.0 L31.1,16.4 L31.6,16.1 L32.1,16.3 L32.6,16.6 L33.1,11.6 L33.6,10.0 L34.1,10.6 L34.6,13.1 L35.1,15.5 L35.6,15.7 L36.1,10.0 L36.6,10.6 L37.1,15.9 L37.6,15.8 L38.1,16.1 L38.6,12.8 L39.1,16.2 L39.6,16.4 L40.1,15.4 L40.6,16.4 L41.1,12.9 L41.6,16.1 L42.1,16.0 L42.6,8.8 L43.1,16.2 L43.6,10.8 L44.1,11.4 L44.6,16.2 L45.1,11.9 L45.6,16.3 L46.1,10.8 L46.6,16.2 L47.1,12.1 L47.6,16.1 L48.1,10.4 L48.6,16.3 L49.1,11.0 L49.6,16.3 L50.1,11.4 L50.7,16.5 L51.2,15.6 L51.7,9.1 L52.2,10.2 L52.7,16.0 L53.2,16.1 L53.7,15.1 L54.2,15.9 L54.7,16.2 L55.2,9.3 L55.7,12.1 L56.2,16.1 L56.7,16.4 L57.2,15.2 L57.7,15.9 L58.2,11.6 L58.7,15.3 L59.2,15.7 L59.7,16.6 L60.2,15.7 L60.7,16.2 L61.2,16.4 L61.7,15.8 L62.2,15.6 L62.7,16.2 L63.2,10.3 L63.7,9.5 L64.2,15.6 L64.7,16.4 L65.2,16.3 L65.7,16.1 L66.2,16.3 L66.7,16.1 L67.2,16.0 L67.7,15.6 L68.2,15.4 L68.7,16.2 L69.2,16.2 L69.7,15.7 L70.2,15.6 L70.7,15.7 L71.2,15.9 L71.7,16.2 L72.2,15.7 L72.7,16.1 L73.2,12.3 L73.7,16.5 L74.2,12.7 L74.7,15.8 L75.2,15.8 L75.7,9.6 L76.2,11.4 L76.7,16.4 L77.2,16.4 L77.7,16.3 L78.2,15.3 L78.7,16.6 L79.2,15.8 L79.7,16.6 L80.2,16.2 L80.7,16.3 L81.2,16.5 L81.7,11.9 L82.2,16.3 L82.7,16.3 L83.2,13.3 L83.7,16.3 L84.3,16.4 L84.8,15.9 L85.3,10.2 L85.8,16.2 L86.3,15.8 L86.8,16.3 L87.3,16.3 L87.8,16.5 L88.3,16.5 L88.8,15.2 L89.3,15.9 L89.8,16.1 L90.3,16.0 L90.8,16.2 L91.3,16.5 L91.8,10.8 L92.3,11.4 L92.8,16.5 L93.3,16.3 L93.8,16.3 L94.3,15.8 L94.8,16.2 L95.3,11.8 L95.8,15.8 L96.3,15.9 L96.8,16.3 L97.3,15.8 L97.8,15.8 L98.3,16.3 L98.8,9.8 L99.3,15.7 L99.8,15.9 L100.3,16.0 L100.8,9.2 L101.3,9.9 L101.8,15.2 L102.3,16.1 L102.8,16.0 L103.3,15.6 L103.8,15.9 L104.3,15.9 L104.8,14.8 L105.3,15.3 L105.8,15.1 L106.3,15.8 L106.8,15.6 L107.3,15.7 L107.8,15.7 L108.3,15.3 L108.8,15.0 L109.3,11.4 L109.8,15.0 L110.3,15.9 L110.8,15.5 L111.3,15.5 L111.8,15.0 L112.3,15.4 L112.8,15.6 L113.3,15.4 L113.8,15.7 L114.3,15.1 L114.8,15.4 L115.3,15.3 L115.8,15.1 L116.3,15.3 L116.8,14.9 L117.3,15.4 L117.9,15.5 L118.4,14.5 L118.9,15.0 L119.4,14.8 L119.9,14.9 L120.4,15.1 L120.9,15.4 L121.4,15.6 L121.9,14.8 L122.4,15.0 L122.9,14.9 L123.4,14.5 L123.9,15.1 L124.4,14.8 L124.9,15.2 L125.4,15.3 L125.9,14.2 L126.4,14.4 L126.9,7.1 L127.4,14.4 L127.9,14.5 L128.4,15.2 L128.9,14.3 L129.4,14.3 L129.9,15.1 L130.4,14.2 L130.9,14.5 L131.4,14.7 L131.9,14.8 L132.4,14.4 L132.9,14.8 L133.4,14.2 L133.9,14.0 L134.4,14.4 L134.9,14.9 L135.4,14.3 L135.9,14.0 L136.4,13.5 L136.9,13.8 L137.4,8.1 L137.9,13.5 L138.4,13.7 L138.9,13.5 L139.4,13.7 L139.9,7.4 L140.4,12.5 L140.9,11.4 L141.4,12.1 L141.9,11.3 L142.4,11.0 L142.9,2.5 L143.4,5.1 L143.9,6.1 L144.4,6.4 L144.9,7.0 L145.4,8.7 L145.9,8.0 L146.4,1.0 L146.9,2.3 L147.4,8.3 L147.9,10.1 L148.4,9.8 L148.9,5.9 L149.4,6.8 L149.9,8.3 L150.4,10.3 L150.9,8.5 L151.5,10.8 L152.0,14.9 L152.5,14.9 L153.0,14.9 L153.5,14.9 L154.0,14.9 L154.5,14.9 L155.0,14.9 L155.5,12.7 L156.0,13.9 L156.5,9.2 L157.0,9.9 L157.5,12.6 L158.0,13.1 L158.5,13.0 L159.0,4.8 L159.5,5.8 L160.0,13.5 L160.5,13.9 L161.0,13.7 L161.5,6.2 L162.0,7.1 L162.5,12.4 L163.0,13.3 L163.5,13.0 L164.0,12.4 L164.5,13.6 L165.0,12.8 L165.5,13.2 L166.0,9.8 L166.5,12.4 L167.0,12.2 L167.5,12.6 L168.0,12.5" fill="none" stroke="#058dc7" stroke-width="1.4" stroke-linejoin="miter" stroke-miterlimit="3"/></svg></div><div class="m" style="left:13px;top:440px"><div class="ml" style="letter-spacing:-0.22px">% New Sessions</div><div class="mv" style="letter-spacing:-0.30px">63.46%</div><svg class="sp" width="172" height="20" viewBox="-2 0 172 20"><path d="M0.0,17.8 L0.0,17.2 L0.5,12.2 L1.0,7.1 L1.5,3.8 L2.0,1.2 L2.5,2.9 L3.0,2.6 L3.5,2.1 L4.0,2.6 L4.5,3.9 L5.0,3.0 L5.5,4.7 L6.0,3.3 L6.5,3.6 L7.0,4.0 L7.5,11.9 L8.0,5.5 L8.5,5.5 L9.0,6.3 L9.5,5.5 L10.0,1.9 L10.5,7.6 L11.0,5.3 L11.5,4.7 L12.0,4.4 L12.5,3.4 L13.0,8.7 L13.5,8.6 L14.0,2.9 L14.5,2.3 L15.0,4.5 L15.5,16.3 L16.0,2.4 L16.5,4.2 L17.1,3.7 L17.6,4.5 L18.1,7.8 L18.6,5.2 L19.1,2.4 L19.6,2.0 L20.1,3.9 L20.6,3.7 L21.1,2.0 L21.6,10.8 L22.1,2.2 L22.6,1.9 L23.1,3.6 L23.6,6.0 L24.1,2.0 L24.6,4.1 L25.1,4.1 L25.6,1.6 L26.1,5.9 L26.6,2.3 L27.1,1.8 L27.6,3.8 L28.1,1.4 L28.6,1.8 L29.1,11.7 L29.6,11.7 L30.1,11.7 L30.6,9.1 L31.1,8.6 L31.6,1.3 L32.1,9.4 L32.6,2.3 L33.1,7.5 L33.6,3.9 L34.1,4.7 L34.6,7.7 L35.1,3.9 L35.6,3.6 L36.1,1.0 L36.6,1.4 L37.1,6.6 L37.6,2.0 L38.1,10.8 L38.6,10.8 L39.1,10.8 L39.6,3.2 L40.1,1.5 L40.6,1.0 L41.1,7.9 L41.6,1.1 L42.1,2.5 L42.6,11.8 L43.1,11.8 L43.6,11.8 L44.1,8.3 L44.6,8.2 L45.1,1.2 L45.6,3.6 L46.1,1.4 L46.6,2.4 L47.1,1.0 L47.6,1.7 L48.1,5.2 L48.6,2.7 L49.1,2.6 L49.6,1.9 L50.1,5.6 L50.7,2.5 L51.2,2.0 L51.7,3.6 L52.2,2.4 L52.7,8.9 L53.2,2.2 L53.7,5.1 L54.2,3.8 L54.7,1.8 L55.2,10.1 L55.7,4.2 L56.2,7.8 L56.7,5.1 L57.2,4.8 L57.7,3.2 L58.2,1.8 L58.7,5.5 L59.2,1.8 L59.7,3.5 L60.2,3.6 L60.7,2.0 L61.2,1.9 L61.7,3.6 L62.2,3.2 L62.7,2.5 L63.2,1.8 L63.7,3.9 L64.2,2.0 L64.7,1.8 L65.2,1.6 L65.7,1.7 L66.2,1.3 L66.7,1.1 L67.2,4.2 L67.7,2.0 L68.2,1.5 L68.7,2.5 L69.2,1.5 L69.7,15.2 L70.2,15.2 L70.7,15.2 L71.2,8.8 L71.7,8.2 L72.2,1.5 L72.7,9.3 L73.2,7.5 L73.7,9.6 L74.2,8.5 L74.7,3.6 L75.2,0.9 L75.7,3.0 L76.2,1.5 L76.7,1.2 L77.2,8.0 L77.7,1.4 L78.2,4.1 L78.7,6.8 L79.2,1.0 L79.7,1.6 L80.2,1.6 L80.7,1.2 L81.2,7.5 L81.7,1.5 L82.2,1.9 L82.7,1.0 L83.2,1.5 L83.7,5.6 L84.3,8.2 L84.8,16.7 L85.3,16.7 L85.8,16.7 L86.3,5.3 L86.8,1.3 L87.3,1.6 L87.8,2.6 L88.3,7.6 L88.8,5.0 L89.3,2.4 L89.8,2.4 L90.3,6.1 L90.8,6.3 L91.3,1.5 L91.8,0.9 L92.3,3.3 L92.8,1.6 L93.3,0.9 L93.8,1.1 L94.3,2.1 L94.8,1.2 L95.3,5.5 L95.8,4.7 L96.3,3.1 L96.8,2.0 L97.3,2.3 L97.8,7.6 L98.3,1.8 L98.8,4.0 L99.3,4.0 L99.8,4.2 L100.3,3.6 L100.8,5.1 L101.3,5.5 L101.8,4.0 L102.3,2.2 L102.8,4.6 L103.3,2.5 L103.8,5.8 L104.3,16.7 L104.8,16.7 L105.3,16.7 L105.8,3.1 L106.3,8.0 L106.8,1.8 L107.3,8.7 L107.8,4.8 L108.3,6.0 L108.8,3.1 L109.3,5.4 L109.8,2.9 L110.3,2.2 L110.8,5.8 L111.3,6.9 L111.8,11.8 L112.3,11.8 L112.8,11.8 L113.3,1.7 L113.8,10.6 L114.3,4.3 L114.8,3.6 L115.3,1.2 L115.8,3.0 L116.3,5.1 L116.8,6.5 L117.3,3.3 L117.9,1.6 L118.4,1.6 L118.9,3.1 L119.4,3.7 L119.9,1.7 L120.4,3.4 L120.9,2.4 L121.4,4.8 L121.9,3.4 L122.4,6.2 L122.9,1.2 L123.4,4.9 L123.9,7.4 L124.4,2.8 L124.9,0.9 L125.4,1.0 L125.9,2.1 L126.4,2.2 L126.9,2.3 L127.4,12.7 L127.9,12.7 L128.4,12.7 L128.9,1.8 L129.4,3.0 L129.9,2.0 L130.4,6.7 L130.9,2.7 L131.4,2.9 L131.9,2.0 L132.4,3.1 L132.9,5.3 L133.4,3.2 L133.9,1.2 L134.4,1.1 L134.9,3.4 L135.4,1.9 L135.9,1.7 L136.4,5.7 L136.9,9.6 L137.4,9.6 L137.9,9.6 L138.4,8.0 L138.9,2.9 L139.4,1.5 L139.9,2.8 L140.4,13.6 L140.9,1.0 L141.4,1.5 L141.9,2.6 L142.4,5.3 L142.9,3.0 L143.4,1.9 L143.9,2.6 L144.4,5.6 L144.9,8.0 L145.4,5.8 L145.9,8.0 L146.4,5.9 L146.9,5.5 L147.4,14.3 L147.9,5.8 L148.4,7.2 L148.9,10.6 L149.4,7.4 L149.9,14.8 L150.4,14.8 L150.9,14.8 L151.5,5.3 L152.0,6.4 L152.5,10.7 L153.0,5.7 L153.5,15.0 L154.0,8.7 L154.5,13.8 L155.0,13.8 L155.5,13.8 L156.0,9.4 L156.5,7.3 L157.0,8.1 L157.5,10.9 L158.0,6.2 L158.5,5.6 L159.0,4.9 L159.5,6.4 L160.0,6.1 L160.5,8.7 L161.0,9.9 L161.5,6.1 L162.0,6.9 L162.5,5.4 L163.0,6.7 L163.5,17.2 L164.0,10.4 L164.5,4.6 L165.0,10.3 L165.5,4.4 L166.0,4.3 L166.5,11.8 L167.0,11.8 L167.5,13.4 L168.0,14.3 L168.0,17.8 Z" fill="#058dc7" fill-opacity="0.1"/><path d="M0.0,17.2 L0.5,12.2 L1.0,7.1 L1.5,3.8 L2.0,1.2 L2.5,2.9 L3.0,2.6 L3.5,2.1 L4.0,2.6 L4.5,3.9 L5.0,3.0 L5.5,4.7 L6.0,3.3 L6.5,3.6 L7.0,4.0 L7.5,11.9 L8.0,5.5 L8.5,5.5 L9.0,6.3 L9.5,5.5 L10.0,1.9 L10.5,7.6 L11.0,5.3 L11.5,4.7 L12.0,4.4 L12.5,3.4 L13.0,8.7 L13.5,8.6 L14.0,2.9 L14.5,2.3 L15.0,4.5 L15.5,16.3 L16.0,2.4 L16.5,4.2 L17.1,3.7 L17.6,4.5 L18.1,7.8 L18.6,5.2 L19.1,2.4 L19.6,2.0 L20.1,3.9 L20.6,3.7 L21.1,2.0 L21.6,10.8 L22.1,2.2 L22.6,1.9 L23.1,3.6 L23.6,6.0 L24.1,2.0 L24.6,4.1 L25.1,4.1 L25.6,1.6 L26.1,5.9 L26.6,2.3 L27.1,1.8 L27.6,3.8 L28.1,1.4 L28.6,1.8 L29.1,11.7 L29.6,11.7 L30.1,11.7 L30.6,9.1 L31.1,8.6 L31.6,1.3 L32.1,9.4 L32.6,2.3 L33.1,7.5 L33.6,3.9 L34.1,4.7 L34.6,7.7 L35.1,3.9 L35.6,3.6 L36.1,1.0 L36.6,1.4 L37.1,6.6 L37.6,2.0 L38.1,10.8 L38.6,10.8 L39.1,10.8 L39.6,3.2 L40.1,1.5 L40.6,1.0 L41.1,7.9 L41.6,1.1 L42.1,2.5 L42.6,11.8 L43.1,11.8 L43.6,11.8 L44.1,8.3 L44.6,8.2 L45.1,1.2 L45.6,3.6 L46.1,1.4 L46.6,2.4 L47.1,1.0 L47.6,1.7 L48.1,5.2 L48.6,2.7 L49.1,2.6 L49.6,1.9 L50.1,5.6 L50.7,2.5 L51.2,2.0 L51.7,3.6 L52.2,2.4 L52.7,8.9 L53.2,2.2 L53.7,5.1 L54.2,3.8 L54.7,1.8 L55.2,10.1 L55.7,4.2 L56.2,7.8 L56.7,5.1 L57.2,4.8 L57.7,3.2 L58.2,1.8 L58.7,5.5 L59.2,1.8 L59.7,3.5 L60.2,3.6 L60.7,2.0 L61.2,1.9 L61.7,3.6 L62.2,3.2 L62.7,2.5 L63.2,1.8 L63.7,3.9 L64.2,2.0 L64.7,1.8 L65.2,1.6 L65.7,1.7 L66.2,1.3 L66.7,1.1 L67.2,4.2 L67.7,2.0 L68.2,1.5 L68.7,2.5 L69.2,1.5 L69.7,15.2 L70.2,15.2 L70.7,15.2 L71.2,8.8 L71.7,8.2 L72.2,1.5 L72.7,9.3 L73.2,7.5 L73.7,9.6 L74.2,8.5 L74.7,3.6 L75.2,0.9 L75.7,3.0 L76.2,1.5 L76.7,1.2 L77.2,8.0 L77.7,1.4 L78.2,4.1 L78.7,6.8 L79.2,1.0 L79.7,1.6 L80.2,1.6 L80.7,1.2 L81.2,7.5 L81.7,1.5 L82.2,1.9 L82.7,1.0 L83.2,1.5 L83.7,5.6 L84.3,8.2 L84.8,16.7 L85.3,16.7 L85.8,16.7 L86.3,5.3 L86.8,1.3 L87.3,1.6 L87.8,2.6 L88.3,7.6 L88.8,5.0 L89.3,2.4 L89.8,2.4 L90.3,6.1 L90.8,6.3 L91.3,1.5 L91.8,0.9 L92.3,3.3 L92.8,1.6 L93.3,0.9 L93.8,1.1 L94.3,2.1 L94.8,1.2 L95.3,5.5 L95.8,4.7 L96.3,3.1 L96.8,2.0 L97.3,2.3 L97.8,7.6 L98.3,1.8 L98.8,4.0 L99.3,4.0 L99.8,4.2 L100.3,3.6 L100.8,5.1 L101.3,5.5 L101.8,4.0 L102.3,2.2 L102.8,4.6 L103.3,2.5 L103.8,5.8 L104.3,16.7 L104.8,16.7 L105.3,16.7 L105.8,3.1 L106.3,8.0 L106.8,1.8 L107.3,8.7 L107.8,4.8 L108.3,6.0 L108.8,3.1 L109.3,5.4 L109.8,2.9 L110.3,2.2 L110.8,5.8 L111.3,6.9 L111.8,11.8 L112.3,11.8 L112.8,11.8 L113.3,1.7 L113.8,10.6 L114.3,4.3 L114.8,3.6 L115.3,1.2 L115.8,3.0 L116.3,5.1 L116.8,6.5 L117.3,3.3 L117.9,1.6 L118.4,1.6 L118.9,3.1 L119.4,3.7 L119.9,1.7 L120.4,3.4 L120.9,2.4 L121.4,4.8 L121.9,3.4 L122.4,6.2 L122.9,1.2 L123.4,4.9 L123.9,7.4 L124.4,2.8 L124.9,0.9 L125.4,1.0 L125.9,2.1 L126.4,2.2 L126.9,2.3 L127.4,12.7 L127.9,12.7 L128.4,12.7 L128.9,1.8 L129.4,3.0 L129.9,2.0 L130.4,6.7 L130.9,2.7 L131.4,2.9 L131.9,2.0 L132.4,3.1 L132.9,5.3 L133.4,3.2 L133.9,1.2 L134.4,1.1 L134.9,3.4 L135.4,1.9 L135.9,1.7 L136.4,5.7 L136.9,9.6 L137.4,9.6 L137.9,9.6 L138.4,8.0 L138.9,2.9 L139.4,1.5 L139.9,2.8 L140.4,13.6 L140.9,1.0 L141.4,1.5 L141.9,2.6 L142.4,5.3 L142.9,3.0 L143.4,1.9 L143.9,2.6 L144.4,5.6 L144.9,8.0 L145.4,5.8 L145.9,8.0 L146.4,5.9 L146.9,5.5 L147.4,14.3 L147.9,5.8 L148.4,7.2 L148.9,10.6 L149.4,7.4 L149.9,14.8 L150.4,14.8 L150.9,14.8 L151.5,5.3 L152.0,6.4 L152.5,10.7 L153.0,5.7 L153.5,15.0 L154.0,8.7 L154.5,13.8 L155.0,13.8 L155.5,13.8 L156.0,9.4 L156.5,7.3 L157.0,8.1 L157.5,10.9 L158.0,6.2 L158.5,5.6 L159.0,4.9 L159.5,6.4 L160.0,6.1 L160.5,8.7 L161.0,9.9 L161.5,6.1 L162.0,6.9 L162.5,5.4 L163.0,6.7 L163.5,17.2 L164.0,10.4 L164.5,4.6 L165.0,10.3 L165.5,4.4 L166.0,4.3 L166.5,11.8 L167.0,11.8 L167.5,13.4 L168.0,14.3" fill="none" stroke="#058dc7" stroke-width="1.5" stroke-linejoin="miter" stroke-miterlimit="3"/></svg></div>
<svg id="pie" width="1085" height="520" viewBox="0 0 1085 520">
<rect x="781" y="218" width="10" height="10" fill="#058dc7"/>
<text x="796" y="228" font-size="13" fill="#222" letter-spacing="0.15">New Visitor</text>
<rect x="878" y="218" width="10" height="10" fill="#50b432"/>
<text x="893" y="228" font-size="13" fill="#222" letter-spacing="0.05">Returning Visitor</text>
<path d="M893,341 L893,249 A92,92 0 1,1 823.61,401.41 Z" fill="#058dc7" stroke="#fff" stroke-width="1"/>
<path d="M893,341 L823.61,401.41 A92,92 0 0,1 893,249 Z" fill="#50b432" stroke="#fff" stroke-width="1"/>
<text x="955.5" y="372.5" font-size="9" fill="#fff" text-anchor="middle">63.6%</text>
<text x="829.6" y="315" font-size="9" fill="#fff" text-anchor="middle">36.4%</text>
</svg>
</body></html>
